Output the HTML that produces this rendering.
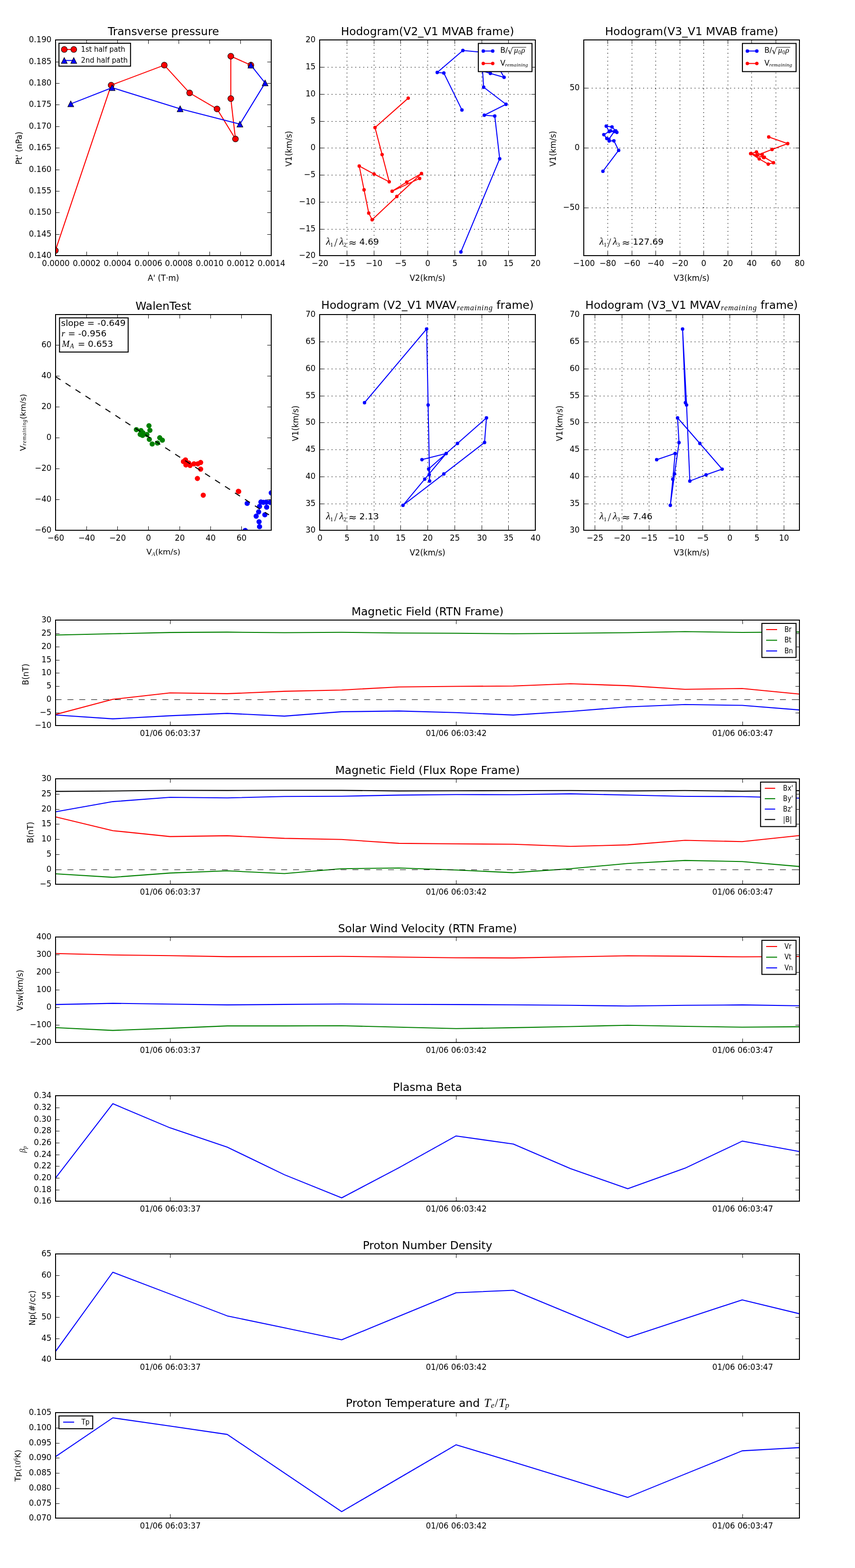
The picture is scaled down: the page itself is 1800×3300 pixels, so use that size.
<!DOCTYPE html>
<html><head><meta charset="utf-8"><title>Flux rope analysis</title>
<style>html,body{margin:0;padding:0;background:#fff;}svg{display:block;}</style>
</head><body>
<svg width="1800" height="3300" viewBox="0 0 1800 3300">
<rect x="0" y="0" width="1800" height="3300" fill="#fff"/>
<clipPath id="c1"><rect x="117" y="84" width="454" height="454"/></clipPath>
<g clip-path="url(#c1)">
<polyline points="116.6,527.3 234,179.3 345.9,137.1 399.2,195.6 456.9,229.3 495.7,292.5 485.9,207.5 485.9,118.3 528.2,137.1" fill="none" stroke="#ff0000" stroke-width="2.08" stroke-linejoin="round" stroke-linecap="butt"/>
<circle cx="116.6" cy="527.3" r="6.25" fill="#ff0000" stroke="#000" stroke-width="1.04"/>
<circle cx="234" cy="179.3" r="6.25" fill="#ff0000" stroke="#000" stroke-width="1.04"/>
<circle cx="345.9" cy="137.1" r="6.25" fill="#ff0000" stroke="#000" stroke-width="1.04"/>
<circle cx="399.2" cy="195.6" r="6.25" fill="#ff0000" stroke="#000" stroke-width="1.04"/>
<circle cx="456.9" cy="229.3" r="6.25" fill="#ff0000" stroke="#000" stroke-width="1.04"/>
<circle cx="495.7" cy="292.5" r="6.25" fill="#ff0000" stroke="#000" stroke-width="1.04"/>
<circle cx="485.9" cy="207.5" r="6.25" fill="#ff0000" stroke="#000" stroke-width="1.04"/>
<circle cx="485.9" cy="118.3" r="6.25" fill="#ff0000" stroke="#000" stroke-width="1.04"/>
<circle cx="528.2" cy="137.1" r="6.25" fill="#ff0000" stroke="#000" stroke-width="1.04"/>
<polyline points="149,218.6 236.1,184.5 379.2,228.9 505.1,261.3 558.1,174.6 528.2,137.1" fill="none" stroke="#0000ff" stroke-width="2.08" stroke-linejoin="round" stroke-linecap="butt"/>
<polygon points="149,212.35 142.75,224.85 155.25,224.85" fill="#0000ff" stroke="#000" stroke-width="1.04" stroke-linejoin="miter"/>
<polygon points="236.1,178.25 229.85,190.75 242.35,190.75" fill="#0000ff" stroke="#000" stroke-width="1.04" stroke-linejoin="miter"/>
<polygon points="379.2,222.65 372.95,235.15 385.45,235.15" fill="#0000ff" stroke="#000" stroke-width="1.04" stroke-linejoin="miter"/>
<polygon points="505.1,255.05 498.85,267.55 511.35,267.55" fill="#0000ff" stroke="#000" stroke-width="1.04" stroke-linejoin="miter"/>
<polygon points="558.1,168.35 551.85,180.85 564.35,180.85" fill="#0000ff" stroke="#000" stroke-width="1.04" stroke-linejoin="miter"/>
<polygon points="528.2,130.85 521.95,143.35 534.45,143.35" fill="#0000ff" stroke="#000" stroke-width="1.04" stroke-linejoin="miter"/>
</g>
<line x1="117.5" y1="538" x2="117.5" y2="529.67" stroke="#000" stroke-width="1.04" stroke-linecap="butt"/>
<line x1="117.5" y1="84" x2="117.5" y2="92.33" stroke="#000" stroke-width="1.04" stroke-linecap="butt"/>
<text x="117.5" y="560.4" font-size="16.67" font-family="'DejaVu Sans', 'Liberation Sans', sans-serif" text-anchor="middle" transform="matrix(1 0 0 1.07 0 -39.23)">0.0000</text>
<line x1="182.5" y1="538" x2="182.5" y2="529.67" stroke="#000" stroke-width="1.04" stroke-linecap="butt"/>
<line x1="182.5" y1="84" x2="182.5" y2="92.33" stroke="#000" stroke-width="1.04" stroke-linecap="butt"/>
<text x="182.5" y="560.4" font-size="16.67" font-family="'DejaVu Sans', 'Liberation Sans', sans-serif" text-anchor="middle" transform="matrix(1 0 0 1.07 0 -39.23)">0.0002</text>
<line x1="247.5" y1="538" x2="247.5" y2="529.67" stroke="#000" stroke-width="1.04" stroke-linecap="butt"/>
<line x1="247.5" y1="84" x2="247.5" y2="92.33" stroke="#000" stroke-width="1.04" stroke-linecap="butt"/>
<text x="247.5" y="560.4" font-size="16.67" font-family="'DejaVu Sans', 'Liberation Sans', sans-serif" text-anchor="middle" transform="matrix(1 0 0 1.07 0 -39.23)">0.0004</text>
<line x1="312.5" y1="538" x2="312.5" y2="529.67" stroke="#000" stroke-width="1.04" stroke-linecap="butt"/>
<line x1="312.5" y1="84" x2="312.5" y2="92.33" stroke="#000" stroke-width="1.04" stroke-linecap="butt"/>
<text x="312.5" y="560.4" font-size="16.67" font-family="'DejaVu Sans', 'Liberation Sans', sans-serif" text-anchor="middle" transform="matrix(1 0 0 1.07 0 -39.23)">0.0006</text>
<line x1="376.5" y1="538" x2="376.5" y2="529.67" stroke="#000" stroke-width="1.04" stroke-linecap="butt"/>
<line x1="376.5" y1="84" x2="376.5" y2="92.33" stroke="#000" stroke-width="1.04" stroke-linecap="butt"/>
<text x="376.5" y="560.4" font-size="16.67" font-family="'DejaVu Sans', 'Liberation Sans', sans-serif" text-anchor="middle" transform="matrix(1 0 0 1.07 0 -39.23)">0.0008</text>
<line x1="441.5" y1="538" x2="441.5" y2="529.67" stroke="#000" stroke-width="1.04" stroke-linecap="butt"/>
<line x1="441.5" y1="84" x2="441.5" y2="92.33" stroke="#000" stroke-width="1.04" stroke-linecap="butt"/>
<text x="441.5" y="560.4" font-size="16.67" font-family="'DejaVu Sans', 'Liberation Sans', sans-serif" text-anchor="middle" transform="matrix(1 0 0 1.07 0 -39.23)">0.0010</text>
<line x1="506.5" y1="538" x2="506.5" y2="529.67" stroke="#000" stroke-width="1.04" stroke-linecap="butt"/>
<line x1="506.5" y1="84" x2="506.5" y2="92.33" stroke="#000" stroke-width="1.04" stroke-linecap="butt"/>
<text x="506.5" y="560.4" font-size="16.67" font-family="'DejaVu Sans', 'Liberation Sans', sans-serif" text-anchor="middle" transform="matrix(1 0 0 1.07 0 -39.23)">0.0012</text>
<line x1="571.5" y1="538" x2="571.5" y2="529.67" stroke="#000" stroke-width="1.04" stroke-linecap="butt"/>
<line x1="571.5" y1="84" x2="571.5" y2="92.33" stroke="#000" stroke-width="1.04" stroke-linecap="butt"/>
<text x="571.5" y="560.4" font-size="16.67" font-family="'DejaVu Sans', 'Liberation Sans', sans-serif" text-anchor="middle" transform="matrix(1 0 0 1.07 0 -39.23)">0.0014</text>
<line x1="117" y1="538.5" x2="125.33" y2="538.5" stroke="#000" stroke-width="1.04" stroke-linecap="butt"/>
<line x1="571" y1="538.5" x2="562.67" y2="538.5" stroke="#000" stroke-width="1.04" stroke-linecap="butt"/>
<text x="108.4" y="543.2" font-size="16.67" font-family="'DejaVu Sans', 'Liberation Sans', sans-serif" text-anchor="end" transform="matrix(1 0 0 1.07 0 -38.02)">0.140</text>
<line x1="117" y1="493.5" x2="125.33" y2="493.5" stroke="#000" stroke-width="1.04" stroke-linecap="butt"/>
<line x1="571" y1="493.5" x2="562.67" y2="493.5" stroke="#000" stroke-width="1.04" stroke-linecap="butt"/>
<text x="108.4" y="498.2" font-size="16.67" font-family="'DejaVu Sans', 'Liberation Sans', sans-serif" text-anchor="end" transform="matrix(1 0 0 1.07 0 -34.87)">0.145</text>
<line x1="117" y1="447.5" x2="125.33" y2="447.5" stroke="#000" stroke-width="1.04" stroke-linecap="butt"/>
<line x1="571" y1="447.5" x2="562.67" y2="447.5" stroke="#000" stroke-width="1.04" stroke-linecap="butt"/>
<text x="108.4" y="452.2" font-size="16.67" font-family="'DejaVu Sans', 'Liberation Sans', sans-serif" text-anchor="end" transform="matrix(1 0 0 1.07 0 -31.65)">0.150</text>
<line x1="117" y1="402.5" x2="125.33" y2="402.5" stroke="#000" stroke-width="1.04" stroke-linecap="butt"/>
<line x1="571" y1="402.5" x2="562.67" y2="402.5" stroke="#000" stroke-width="1.04" stroke-linecap="butt"/>
<text x="108.4" y="407.2" font-size="16.67" font-family="'DejaVu Sans', 'Liberation Sans', sans-serif" text-anchor="end" transform="matrix(1 0 0 1.07 0 -28.5)">0.155</text>
<line x1="117" y1="357.5" x2="125.33" y2="357.5" stroke="#000" stroke-width="1.04" stroke-linecap="butt"/>
<line x1="571" y1="357.5" x2="562.67" y2="357.5" stroke="#000" stroke-width="1.04" stroke-linecap="butt"/>
<text x="108.4" y="362.2" font-size="16.67" font-family="'DejaVu Sans', 'Liberation Sans', sans-serif" text-anchor="end" transform="matrix(1 0 0 1.07 0 -25.35)">0.160</text>
<line x1="117" y1="311.5" x2="125.33" y2="311.5" stroke="#000" stroke-width="1.04" stroke-linecap="butt"/>
<line x1="571" y1="311.5" x2="562.67" y2="311.5" stroke="#000" stroke-width="1.04" stroke-linecap="butt"/>
<text x="108.4" y="316.2" font-size="16.67" font-family="'DejaVu Sans', 'Liberation Sans', sans-serif" text-anchor="end" transform="matrix(1 0 0 1.07 0 -22.13)">0.165</text>
<line x1="117" y1="266.5" x2="125.33" y2="266.5" stroke="#000" stroke-width="1.04" stroke-linecap="butt"/>
<line x1="571" y1="266.5" x2="562.67" y2="266.5" stroke="#000" stroke-width="1.04" stroke-linecap="butt"/>
<text x="108.4" y="271.2" font-size="16.67" font-family="'DejaVu Sans', 'Liberation Sans', sans-serif" text-anchor="end" transform="matrix(1 0 0 1.07 0 -18.98)">0.170</text>
<line x1="117" y1="220.5" x2="125.33" y2="220.5" stroke="#000" stroke-width="1.04" stroke-linecap="butt"/>
<line x1="571" y1="220.5" x2="562.67" y2="220.5" stroke="#000" stroke-width="1.04" stroke-linecap="butt"/>
<text x="108.4" y="225.2" font-size="16.67" font-family="'DejaVu Sans', 'Liberation Sans', sans-serif" text-anchor="end" transform="matrix(1 0 0 1.07 0 -15.76)">0.175</text>
<line x1="117" y1="175.5" x2="125.33" y2="175.5" stroke="#000" stroke-width="1.04" stroke-linecap="butt"/>
<line x1="571" y1="175.5" x2="562.67" y2="175.5" stroke="#000" stroke-width="1.04" stroke-linecap="butt"/>
<text x="108.4" y="180.2" font-size="16.67" font-family="'DejaVu Sans', 'Liberation Sans', sans-serif" text-anchor="end" transform="matrix(1 0 0 1.07 0 -12.61)">0.180</text>
<line x1="117" y1="130.5" x2="125.33" y2="130.5" stroke="#000" stroke-width="1.04" stroke-linecap="butt"/>
<line x1="571" y1="130.5" x2="562.67" y2="130.5" stroke="#000" stroke-width="1.04" stroke-linecap="butt"/>
<text x="108.4" y="135.2" font-size="16.67" font-family="'DejaVu Sans', 'Liberation Sans', sans-serif" text-anchor="end" transform="matrix(1 0 0 1.07 0 -9.46)">0.185</text>
<line x1="117" y1="84.5" x2="125.33" y2="84.5" stroke="#000" stroke-width="1.04" stroke-linecap="butt"/>
<line x1="571" y1="84.5" x2="562.67" y2="84.5" stroke="#000" stroke-width="1.04" stroke-linecap="butt"/>
<text x="108.4" y="89.2" font-size="16.67" font-family="'DejaVu Sans', 'Liberation Sans', sans-serif" text-anchor="end" transform="matrix(1 0 0 1.07 0 -6.24)">0.190</text>
<rect x="117" y="84" width="454" height="454" fill="none" stroke="#000" stroke-width="2"/>
<text x="344" y="74" font-size="23.35" font-family="'DejaVu Sans', 'Liberation Sans', sans-serif" text-anchor="middle">Transverse pressure</text>
<text x="344" y="591.4" font-size="16.67" font-family="'DejaVu Sans', 'Liberation Sans', sans-serif" text-anchor="middle" transform="matrix(1 0 0 1.07 0 -41.4)">A' (T·m)</text>
<text x="45.8" y="311.8" font-size="16.67" font-family="'DejaVu Sans', 'Liberation Sans', sans-serif" text-anchor="middle" transform="rotate(-90 45.8 311.8) matrix(1 0 0 1.07 0 -21.83)">Pt' (nPa)</text>
<rect x="124.1" y="91" width="150.7" height="48.3" fill="#fff" stroke="#000" stroke-width="2.08"/>
<line x1="135.3" y1="104.1" x2="155.3" y2="104.1" stroke="#ff0000" stroke-width="2.08" stroke-linecap="butt"/>
<circle cx="135.3" cy="104.1" r="6.25" fill="#ff0000" stroke="#000" stroke-width="1.04"/>
<circle cx="155.3" cy="104.1" r="6.25" fill="#ff0000" stroke="#000" stroke-width="1.04"/>
<line x1="135.3" y1="127.3" x2="155.3" y2="127.3" stroke="#0000ff" stroke-width="2.08" stroke-linecap="butt"/>
<polygon points="135.3,121.05 129.05,133.55 141.55,133.55" fill="#0000ff" stroke="#000" stroke-width="1.04" stroke-linejoin="miter"/>
<polygon points="155.3,121.05 149.05,133.55 161.55,133.55" fill="#0000ff" stroke="#000" stroke-width="1.04" stroke-linejoin="miter"/>
<text x="170.6" y="108.9" font-size="14.7" font-family="'DejaVu Sans', 'Liberation Sans', sans-serif" transform="matrix(1 0 0 1.08 0 -8.71)">1st half path</text>
<text x="170.6" y="132" font-size="14.7" font-family="'DejaVu Sans', 'Liberation Sans', sans-serif" transform="matrix(1 0 0 1.08 0 -10.56)">2nd half path</text>
<clipPath id="c2"><rect x="673" y="84" width="454" height="454"/></clipPath>
<line x1="730.5" y1="538" x2="730.5" y2="84" stroke="#000" stroke-width="1.04" stroke-dasharray="2.08,6.25" stroke-linecap="butt"/>
<line x1="787.5" y1="538" x2="787.5" y2="84" stroke="#000" stroke-width="1.04" stroke-dasharray="2.08,6.25" stroke-linecap="butt"/>
<line x1="843.5" y1="538" x2="843.5" y2="84" stroke="#000" stroke-width="1.04" stroke-dasharray="2.08,6.25" stroke-linecap="butt"/>
<line x1="900.5" y1="538" x2="900.5" y2="84" stroke="#000" stroke-width="1.04" stroke-dasharray="2.08,6.25" stroke-linecap="butt"/>
<line x1="957.5" y1="538" x2="957.5" y2="84" stroke="#000" stroke-width="1.04" stroke-dasharray="2.08,6.25" stroke-linecap="butt"/>
<line x1="1014.5" y1="538" x2="1014.5" y2="84" stroke="#000" stroke-width="1.04" stroke-dasharray="2.08,6.25" stroke-linecap="butt"/>
<line x1="1070.5" y1="538" x2="1070.5" y2="84" stroke="#000" stroke-width="1.04" stroke-dasharray="2.08,6.25" stroke-linecap="butt"/>
<line x1="1127.5" y1="538" x2="1127.5" y2="84" stroke="#000" stroke-width="1.04" stroke-dasharray="2.08,6.25" stroke-linecap="butt"/>
<line x1="673" y1="482.5" x2="1127" y2="482.5" stroke="#000" stroke-width="1.04" stroke-dasharray="2.08,6.25" stroke-linecap="butt"/>
<line x1="673" y1="425.5" x2="1127" y2="425.5" stroke="#000" stroke-width="1.04" stroke-dasharray="2.08,6.25" stroke-linecap="butt"/>
<line x1="673" y1="368.5" x2="1127" y2="368.5" stroke="#000" stroke-width="1.04" stroke-dasharray="2.08,6.25" stroke-linecap="butt"/>
<line x1="673" y1="311.5" x2="1127" y2="311.5" stroke="#000" stroke-width="1.04" stroke-dasharray="2.08,6.25" stroke-linecap="butt"/>
<line x1="673" y1="255.5" x2="1127" y2="255.5" stroke="#000" stroke-width="1.04" stroke-dasharray="2.08,6.25" stroke-linecap="butt"/>
<line x1="673" y1="198.5" x2="1127" y2="198.5" stroke="#000" stroke-width="1.04" stroke-dasharray="2.08,6.25" stroke-linecap="butt"/>
<line x1="673" y1="141.5" x2="1127" y2="141.5" stroke="#000" stroke-width="1.04" stroke-dasharray="2.08,6.25" stroke-linecap="butt"/>
<g clip-path="url(#c2)">
<polyline points="972.5,231.4 934.4,153.7 920.5,152.5 974.5,106.2 1030,111.3" fill="none" stroke="#0000ff" stroke-width="2.08" stroke-linejoin="round" stroke-linecap="butt"/>
<polyline points="1012.3,148.1 1032.3,154.5 1061.2,162.7 1051.2,144.9" fill="none" stroke="#0000ff" stroke-width="2.08" stroke-linejoin="round" stroke-linecap="butt"/>
<polyline points="1014,120 1018.2,183.5 1065.3,219.5 1019.5,242.5 1041.6,244.2 1052,334.1 970.3,530.2" fill="none" stroke="#0000ff" stroke-width="2.08" stroke-linejoin="round" stroke-linecap="butt"/>
<circle cx="972.5" cy="231.4" r="3.12" fill="#0000ff" stroke="#0000ff" stroke-width="1.04"/>
<circle cx="934.4" cy="153.7" r="3.12" fill="#0000ff" stroke="#0000ff" stroke-width="1.04"/>
<circle cx="920.5" cy="152.5" r="3.12" fill="#0000ff" stroke="#0000ff" stroke-width="1.04"/>
<circle cx="974.5" cy="106.2" r="3.12" fill="#0000ff" stroke="#0000ff" stroke-width="1.04"/>
<circle cx="1032.3" cy="154.5" r="3.12" fill="#0000ff" stroke="#0000ff" stroke-width="1.04"/>
<circle cx="1061.2" cy="162.7" r="3.12" fill="#0000ff" stroke="#0000ff" stroke-width="1.04"/>
<circle cx="1018.2" cy="183.5" r="3.12" fill="#0000ff" stroke="#0000ff" stroke-width="1.04"/>
<circle cx="1065.3" cy="219.5" r="3.12" fill="#0000ff" stroke="#0000ff" stroke-width="1.04"/>
<circle cx="1019.5" cy="242.5" r="3.12" fill="#0000ff" stroke="#0000ff" stroke-width="1.04"/>
<circle cx="1041.6" cy="244.2" r="3.12" fill="#0000ff" stroke="#0000ff" stroke-width="1.04"/>
<circle cx="1052" cy="334.1" r="3.12" fill="#0000ff" stroke="#0000ff" stroke-width="1.04"/>
<circle cx="970.3" cy="530.2" r="3.12" fill="#0000ff" stroke="#0000ff" stroke-width="1.04"/>
<polyline points="859.4,206.6 789.5,268.5 804.4,325.3 819.4,382.6 787.5,366.3 756.3,349.4 766.4,399.5 776.3,448.4 783.4,462.4 835.4,413.5 887.3,365.2 856.4,383.2 825.5,402.4 883.5,375.6" fill="none" stroke="#ff0000" stroke-width="2.08" stroke-linejoin="round" stroke-linecap="butt"/>
<circle cx="859.4" cy="206.6" r="3.12" fill="#ff0000" stroke="#ff0000" stroke-width="1.04"/>
<circle cx="789.5" cy="268.5" r="3.12" fill="#ff0000" stroke="#ff0000" stroke-width="1.04"/>
<circle cx="804.4" cy="325.3" r="3.12" fill="#ff0000" stroke="#ff0000" stroke-width="1.04"/>
<circle cx="819.4" cy="382.6" r="3.12" fill="#ff0000" stroke="#ff0000" stroke-width="1.04"/>
<circle cx="787.5" cy="366.3" r="3.12" fill="#ff0000" stroke="#ff0000" stroke-width="1.04"/>
<circle cx="756.3" cy="349.4" r="3.12" fill="#ff0000" stroke="#ff0000" stroke-width="1.04"/>
<circle cx="766.4" cy="399.5" r="3.12" fill="#ff0000" stroke="#ff0000" stroke-width="1.04"/>
<circle cx="776.3" cy="448.4" r="3.12" fill="#ff0000" stroke="#ff0000" stroke-width="1.04"/>
<circle cx="783.4" cy="462.4" r="3.12" fill="#ff0000" stroke="#ff0000" stroke-width="1.04"/>
<circle cx="835.4" cy="413.5" r="3.12" fill="#ff0000" stroke="#ff0000" stroke-width="1.04"/>
<circle cx="887.3" cy="365.2" r="3.12" fill="#ff0000" stroke="#ff0000" stroke-width="1.04"/>
<circle cx="856.4" cy="383.2" r="3.12" fill="#ff0000" stroke="#ff0000" stroke-width="1.04"/>
<circle cx="825.5" cy="402.4" r="3.12" fill="#ff0000" stroke="#ff0000" stroke-width="1.04"/>
<circle cx="883.5" cy="375.6" r="3.12" fill="#ff0000" stroke="#ff0000" stroke-width="1.04"/>
</g>
<line x1="673.5" y1="538" x2="673.5" y2="529.67" stroke="#000" stroke-width="1.04" stroke-linecap="butt"/>
<line x1="673.5" y1="84" x2="673.5" y2="92.33" stroke="#000" stroke-width="1.04" stroke-linecap="butt"/>
<text x="673.5" y="560.4" font-size="16.67" font-family="'DejaVu Sans', 'Liberation Sans', sans-serif" text-anchor="middle" transform="matrix(1 0 0 1.07 0 -39.23)">−20</text>
<line x1="730.5" y1="538" x2="730.5" y2="529.67" stroke="#000" stroke-width="1.04" stroke-linecap="butt"/>
<line x1="730.5" y1="84" x2="730.5" y2="92.33" stroke="#000" stroke-width="1.04" stroke-linecap="butt"/>
<text x="730.5" y="560.4" font-size="16.67" font-family="'DejaVu Sans', 'Liberation Sans', sans-serif" text-anchor="middle" transform="matrix(1 0 0 1.07 0 -39.23)">−15</text>
<line x1="787.5" y1="538" x2="787.5" y2="529.67" stroke="#000" stroke-width="1.04" stroke-linecap="butt"/>
<line x1="787.5" y1="84" x2="787.5" y2="92.33" stroke="#000" stroke-width="1.04" stroke-linecap="butt"/>
<text x="787.5" y="560.4" font-size="16.67" font-family="'DejaVu Sans', 'Liberation Sans', sans-serif" text-anchor="middle" transform="matrix(1 0 0 1.07 0 -39.23)">−10</text>
<line x1="843.5" y1="538" x2="843.5" y2="529.67" stroke="#000" stroke-width="1.04" stroke-linecap="butt"/>
<line x1="843.5" y1="84" x2="843.5" y2="92.33" stroke="#000" stroke-width="1.04" stroke-linecap="butt"/>
<text x="843.5" y="560.4" font-size="16.67" font-family="'DejaVu Sans', 'Liberation Sans', sans-serif" text-anchor="middle" transform="matrix(1 0 0 1.07 0 -39.23)">−5</text>
<line x1="900.5" y1="538" x2="900.5" y2="529.67" stroke="#000" stroke-width="1.04" stroke-linecap="butt"/>
<line x1="900.5" y1="84" x2="900.5" y2="92.33" stroke="#000" stroke-width="1.04" stroke-linecap="butt"/>
<text x="900.5" y="560.4" font-size="16.67" font-family="'DejaVu Sans', 'Liberation Sans', sans-serif" text-anchor="middle" transform="matrix(1 0 0 1.07 0 -39.23)">0</text>
<line x1="957.5" y1="538" x2="957.5" y2="529.67" stroke="#000" stroke-width="1.04" stroke-linecap="butt"/>
<line x1="957.5" y1="84" x2="957.5" y2="92.33" stroke="#000" stroke-width="1.04" stroke-linecap="butt"/>
<text x="957.5" y="560.4" font-size="16.67" font-family="'DejaVu Sans', 'Liberation Sans', sans-serif" text-anchor="middle" transform="matrix(1 0 0 1.07 0 -39.23)">5</text>
<line x1="1014.5" y1="538" x2="1014.5" y2="529.67" stroke="#000" stroke-width="1.04" stroke-linecap="butt"/>
<line x1="1014.5" y1="84" x2="1014.5" y2="92.33" stroke="#000" stroke-width="1.04" stroke-linecap="butt"/>
<text x="1014.5" y="560.4" font-size="16.67" font-family="'DejaVu Sans', 'Liberation Sans', sans-serif" text-anchor="middle" transform="matrix(1 0 0 1.07 0 -39.23)">10</text>
<line x1="1070.5" y1="538" x2="1070.5" y2="529.67" stroke="#000" stroke-width="1.04" stroke-linecap="butt"/>
<line x1="1070.5" y1="84" x2="1070.5" y2="92.33" stroke="#000" stroke-width="1.04" stroke-linecap="butt"/>
<text x="1070.5" y="560.4" font-size="16.67" font-family="'DejaVu Sans', 'Liberation Sans', sans-serif" text-anchor="middle" transform="matrix(1 0 0 1.07 0 -39.23)">15</text>
<line x1="1127.5" y1="538" x2="1127.5" y2="529.67" stroke="#000" stroke-width="1.04" stroke-linecap="butt"/>
<line x1="1127.5" y1="84" x2="1127.5" y2="92.33" stroke="#000" stroke-width="1.04" stroke-linecap="butt"/>
<text x="1127.5" y="560.4" font-size="16.67" font-family="'DejaVu Sans', 'Liberation Sans', sans-serif" text-anchor="middle" transform="matrix(1 0 0 1.07 0 -39.23)">20</text>
<line x1="673" y1="538.5" x2="681.33" y2="538.5" stroke="#000" stroke-width="1.04" stroke-linecap="butt"/>
<line x1="1127" y1="538.5" x2="1118.67" y2="538.5" stroke="#000" stroke-width="1.04" stroke-linecap="butt"/>
<text x="664.4" y="543.2" font-size="16.67" font-family="'DejaVu Sans', 'Liberation Sans', sans-serif" text-anchor="end" transform="matrix(1 0 0 1.07 0 -38.02)">−20</text>
<line x1="673" y1="482.5" x2="681.33" y2="482.5" stroke="#000" stroke-width="1.04" stroke-linecap="butt"/>
<line x1="1127" y1="482.5" x2="1118.67" y2="482.5" stroke="#000" stroke-width="1.04" stroke-linecap="butt"/>
<text x="664.4" y="487.2" font-size="16.67" font-family="'DejaVu Sans', 'Liberation Sans', sans-serif" text-anchor="end" transform="matrix(1 0 0 1.07 0 -34.1)">−15</text>
<line x1="673" y1="425.5" x2="681.33" y2="425.5" stroke="#000" stroke-width="1.04" stroke-linecap="butt"/>
<line x1="1127" y1="425.5" x2="1118.67" y2="425.5" stroke="#000" stroke-width="1.04" stroke-linecap="butt"/>
<text x="664.4" y="430.2" font-size="16.67" font-family="'DejaVu Sans', 'Liberation Sans', sans-serif" text-anchor="end" transform="matrix(1 0 0 1.07 0 -30.11)">−10</text>
<line x1="673" y1="368.5" x2="681.33" y2="368.5" stroke="#000" stroke-width="1.04" stroke-linecap="butt"/>
<line x1="1127" y1="368.5" x2="1118.67" y2="368.5" stroke="#000" stroke-width="1.04" stroke-linecap="butt"/>
<text x="664.4" y="373.2" font-size="16.67" font-family="'DejaVu Sans', 'Liberation Sans', sans-serif" text-anchor="end" transform="matrix(1 0 0 1.07 0 -26.12)">−5</text>
<line x1="673" y1="311.5" x2="681.33" y2="311.5" stroke="#000" stroke-width="1.04" stroke-linecap="butt"/>
<line x1="1127" y1="311.5" x2="1118.67" y2="311.5" stroke="#000" stroke-width="1.04" stroke-linecap="butt"/>
<text x="664.4" y="316.2" font-size="16.67" font-family="'DejaVu Sans', 'Liberation Sans', sans-serif" text-anchor="end" transform="matrix(1 0 0 1.07 0 -22.13)">0</text>
<line x1="673" y1="255.5" x2="681.33" y2="255.5" stroke="#000" stroke-width="1.04" stroke-linecap="butt"/>
<line x1="1127" y1="255.5" x2="1118.67" y2="255.5" stroke="#000" stroke-width="1.04" stroke-linecap="butt"/>
<text x="664.4" y="260.2" font-size="16.67" font-family="'DejaVu Sans', 'Liberation Sans', sans-serif" text-anchor="end" transform="matrix(1 0 0 1.07 0 -18.21)">5</text>
<line x1="673" y1="198.5" x2="681.33" y2="198.5" stroke="#000" stroke-width="1.04" stroke-linecap="butt"/>
<line x1="1127" y1="198.5" x2="1118.67" y2="198.5" stroke="#000" stroke-width="1.04" stroke-linecap="butt"/>
<text x="664.4" y="203.2" font-size="16.67" font-family="'DejaVu Sans', 'Liberation Sans', sans-serif" text-anchor="end" transform="matrix(1 0 0 1.07 0 -14.22)">10</text>
<line x1="673" y1="141.5" x2="681.33" y2="141.5" stroke="#000" stroke-width="1.04" stroke-linecap="butt"/>
<line x1="1127" y1="141.5" x2="1118.67" y2="141.5" stroke="#000" stroke-width="1.04" stroke-linecap="butt"/>
<text x="664.4" y="146.2" font-size="16.67" font-family="'DejaVu Sans', 'Liberation Sans', sans-serif" text-anchor="end" transform="matrix(1 0 0 1.07 0 -10.23)">15</text>
<line x1="673" y1="84.5" x2="681.33" y2="84.5" stroke="#000" stroke-width="1.04" stroke-linecap="butt"/>
<line x1="1127" y1="84.5" x2="1118.67" y2="84.5" stroke="#000" stroke-width="1.04" stroke-linecap="butt"/>
<text x="664.4" y="89.2" font-size="16.67" font-family="'DejaVu Sans', 'Liberation Sans', sans-serif" text-anchor="end" transform="matrix(1 0 0 1.07 0 -6.24)">20</text>
<rect x="673" y="84" width="454" height="454" fill="none" stroke="#000" stroke-width="2"/>
<text x="900" y="74" font-size="23.35" font-family="'DejaVu Sans', 'Liberation Sans', sans-serif" text-anchor="middle">Hodogram(V2_V1 MVAB frame)</text>
<text x="900" y="591.4" font-size="16.67" font-family="'DejaVu Sans', 'Liberation Sans', sans-serif" text-anchor="middle" transform="matrix(1 0 0 1.07 0 -41.4)">V2(km/s)</text>
<text x="613.7" y="313" font-size="16.67" font-family="'DejaVu Sans', 'Liberation Sans', sans-serif" text-anchor="middle" transform="rotate(-90 613.7 313) matrix(1 0 0 1.07 0 -21.91)">V1(km/s)</text>
<rect x="1007" y="91.4" width="113" height="59.3" fill="#fff" stroke="#000" stroke-width="2.08"/>
<line x1="1017.4" y1="107.4" x2="1037.3" y2="107.4" stroke="#0000ff" stroke-width="2.08" stroke-linecap="butt"/>
<circle cx="1017.4" cy="107.4" r="3.12" fill="#0000ff" stroke="#0000ff" stroke-width="1.04"/>
<circle cx="1037.3" cy="107.4" r="3.12" fill="#0000ff" stroke="#0000ff" stroke-width="1.04"/>
<line x1="1017.4" y1="133.6" x2="1037.3" y2="133.6" stroke="#ff0000" stroke-width="2.08" stroke-linecap="butt"/>
<circle cx="1017.4" cy="133.6" r="3.12" fill="#ff0000" stroke="#ff0000" stroke-width="1.04"/>
<circle cx="1037.3" cy="133.6" r="3.12" fill="#ff0000" stroke="#ff0000" stroke-width="1.04"/>
<text x="1053.2" y="111" font-size="15.6" font-family="'DejaVu Sans', 'Liberation Sans', sans-serif">B/</text>
<text x="1068.7" y="113.9" font-size="17.8" font-family="'DejaVu Sans', 'Liberation Sans', sans-serif">√</text>
<line x1="1079.6" y1="99.5" x2="1107.8" y2="99.5" stroke="#000" stroke-width="0.9" stroke-linecap="butt"/>
<text x="1082.2" y="111" font-size="16.5" font-family="'Liberation Serif', 'DejaVu Serif', serif" font-style="italic">μ</text>
<text x="1090.9" y="113.6" font-size="11.5" font-family="'Liberation Serif', 'DejaVu Serif', serif">0</text>
<text x="1097.4" y="111" font-size="16.5" font-family="'Liberation Serif', 'DejaVu Serif', serif" font-style="italic">ρ</text>
<text x="1053.2" y="137.8" font-size="15.6" font-family="'DejaVu Sans', 'Liberation Sans', sans-serif">V</text>
<text x="1063.6" y="139.7" font-size="11.2" font-family="'Liberation Serif', 'DejaVu Serif', serif" font-style="italic" textLength="48.0" lengthAdjust="spacing">remaining</text>
<text x="686.4" y="515.4" font-size="21" font-family="'Liberation Serif', 'DejaVu Serif', serif" font-style="italic">λ</text>
<text x="695.1" y="518.7" font-size="13" font-family="'Liberation Serif', 'DejaVu Serif', serif">1</text>
<text x="703.7" y="518.8" font-size="24.5" font-family="'Liberation Serif', 'DejaVu Serif', serif">/</text>
<text x="714.5" y="515.4" font-size="21" font-family="'Liberation Serif', 'DejaVu Serif', serif" font-style="italic">λ</text>
<text x="723.1" y="518.7" font-size="13" font-family="'Liberation Serif', 'DejaVu Serif', serif">2</text>
<text x="733.4" y="517.6" font-size="21" font-family="'DejaVu Sans', 'Liberation Sans', sans-serif">≈</text>
<text x="756.6" y="515.4" font-size="18.5" font-family="'DejaVu Sans', 'Liberation Sans', sans-serif">4.69</text>
<clipPath id="c3"><rect x="1229" y="84" width="454" height="454"/></clipPath>
<line x1="1279.5" y1="538" x2="1279.5" y2="84" stroke="#000" stroke-width="1.04" stroke-dasharray="2.08,6.25" stroke-linecap="butt"/>
<line x1="1330.5" y1="538" x2="1330.5" y2="84" stroke="#000" stroke-width="1.04" stroke-dasharray="2.08,6.25" stroke-linecap="butt"/>
<line x1="1380.5" y1="538" x2="1380.5" y2="84" stroke="#000" stroke-width="1.04" stroke-dasharray="2.08,6.25" stroke-linecap="butt"/>
<line x1="1431.5" y1="538" x2="1431.5" y2="84" stroke="#000" stroke-width="1.04" stroke-dasharray="2.08,6.25" stroke-linecap="butt"/>
<line x1="1481.5" y1="538" x2="1481.5" y2="84" stroke="#000" stroke-width="1.04" stroke-dasharray="2.08,6.25" stroke-linecap="butt"/>
<line x1="1532.5" y1="538" x2="1532.5" y2="84" stroke="#000" stroke-width="1.04" stroke-dasharray="2.08,6.25" stroke-linecap="butt"/>
<line x1="1582.5" y1="538" x2="1582.5" y2="84" stroke="#000" stroke-width="1.04" stroke-dasharray="2.08,6.25" stroke-linecap="butt"/>
<line x1="1633.5" y1="538" x2="1633.5" y2="84" stroke="#000" stroke-width="1.04" stroke-dasharray="2.08,6.25" stroke-linecap="butt"/>
<line x1="1683.5" y1="538" x2="1683.5" y2="84" stroke="#000" stroke-width="1.04" stroke-dasharray="2.08,6.25" stroke-linecap="butt"/>
<line x1="1229" y1="437.5" x2="1683" y2="437.5" stroke="#000" stroke-width="1.04" stroke-dasharray="2.08,6.25" stroke-linecap="butt"/>
<line x1="1229" y1="311.5" x2="1683" y2="311.5" stroke="#000" stroke-width="1.04" stroke-dasharray="2.08,6.25" stroke-linecap="butt"/>
<line x1="1229" y1="185.5" x2="1683" y2="185.5" stroke="#000" stroke-width="1.04" stroke-dasharray="2.08,6.25" stroke-linecap="butt"/>
<g clip-path="url(#c3)">
<polyline points="1281.9,293.1 1293.1,276.8 1282.4,276.8 1276.3,265.4 1288.4,267.2 1296.3,275.4 1298.7,278.6 1285.4,275.2 1271.2,283.3 1277.5,291.5 1282.4,296.6 1292.4,296.3 1302.4,316.4 1269.3,360.4" fill="none" stroke="#0000ff" stroke-width="2.08" stroke-linejoin="round" stroke-linecap="butt"/>
<circle cx="1281.9" cy="293.1" r="3.12" fill="#0000ff" stroke="#0000ff" stroke-width="1.04"/>
<circle cx="1293.1" cy="276.8" r="3.12" fill="#0000ff" stroke="#0000ff" stroke-width="1.04"/>
<circle cx="1282.4" cy="276.8" r="3.12" fill="#0000ff" stroke="#0000ff" stroke-width="1.04"/>
<circle cx="1276.3" cy="265.4" r="3.12" fill="#0000ff" stroke="#0000ff" stroke-width="1.04"/>
<circle cx="1288.4" cy="267.2" r="3.12" fill="#0000ff" stroke="#0000ff" stroke-width="1.04"/>
<circle cx="1296.3" cy="275.4" r="3.12" fill="#0000ff" stroke="#0000ff" stroke-width="1.04"/>
<circle cx="1298.7" cy="278.6" r="3.12" fill="#0000ff" stroke="#0000ff" stroke-width="1.04"/>
<circle cx="1285.4" cy="275.2" r="3.12" fill="#0000ff" stroke="#0000ff" stroke-width="1.04"/>
<circle cx="1271.2" cy="283.3" r="3.12" fill="#0000ff" stroke="#0000ff" stroke-width="1.04"/>
<circle cx="1277.5" cy="291.5" r="3.12" fill="#0000ff" stroke="#0000ff" stroke-width="1.04"/>
<circle cx="1282.4" cy="296.6" r="3.12" fill="#0000ff" stroke="#0000ff" stroke-width="1.04"/>
<circle cx="1292.4" cy="296.3" r="3.12" fill="#0000ff" stroke="#0000ff" stroke-width="1.04"/>
<circle cx="1302.4" cy="316.4" r="3.12" fill="#0000ff" stroke="#0000ff" stroke-width="1.04"/>
<circle cx="1269.3" cy="360.4" r="3.12" fill="#0000ff" stroke="#0000ff" stroke-width="1.04"/>
<polyline points="1618.4,288.2 1658.3,302.2 1625.4,314.5 1593.4,327 1580.3,323.3 1592.5,319.9 1609.2,331 1628.4,342.4 1617.3,345.3 1598.3,334.3 1581,323.1 1594,327.1 1607.5,331.6 1604.5,325.2" fill="none" stroke="#ff0000" stroke-width="2.08" stroke-linejoin="round" stroke-linecap="butt"/>
<circle cx="1618.4" cy="288.2" r="3.12" fill="#ff0000" stroke="#ff0000" stroke-width="1.04"/>
<circle cx="1658.3" cy="302.2" r="3.12" fill="#ff0000" stroke="#ff0000" stroke-width="1.04"/>
<circle cx="1625.4" cy="314.5" r="3.12" fill="#ff0000" stroke="#ff0000" stroke-width="1.04"/>
<circle cx="1593.4" cy="327" r="3.12" fill="#ff0000" stroke="#ff0000" stroke-width="1.04"/>
<circle cx="1580.3" cy="323.3" r="3.12" fill="#ff0000" stroke="#ff0000" stroke-width="1.04"/>
<circle cx="1592.5" cy="319.9" r="3.12" fill="#ff0000" stroke="#ff0000" stroke-width="1.04"/>
<circle cx="1609.2" cy="331" r="3.12" fill="#ff0000" stroke="#ff0000" stroke-width="1.04"/>
<circle cx="1628.4" cy="342.4" r="3.12" fill="#ff0000" stroke="#ff0000" stroke-width="1.04"/>
<circle cx="1617.3" cy="345.3" r="3.12" fill="#ff0000" stroke="#ff0000" stroke-width="1.04"/>
<circle cx="1598.3" cy="334.3" r="3.12" fill="#ff0000" stroke="#ff0000" stroke-width="1.04"/>
<circle cx="1581" cy="323.1" r="3.12" fill="#ff0000" stroke="#ff0000" stroke-width="1.04"/>
<circle cx="1594" cy="327.1" r="3.12" fill="#ff0000" stroke="#ff0000" stroke-width="1.04"/>
<circle cx="1607.5" cy="331.6" r="3.12" fill="#ff0000" stroke="#ff0000" stroke-width="1.04"/>
<circle cx="1604.5" cy="325.2" r="3.12" fill="#ff0000" stroke="#ff0000" stroke-width="1.04"/>
</g>
<line x1="1229.5" y1="538" x2="1229.5" y2="529.67" stroke="#000" stroke-width="1.04" stroke-linecap="butt"/>
<line x1="1229.5" y1="84" x2="1229.5" y2="92.33" stroke="#000" stroke-width="1.04" stroke-linecap="butt"/>
<text x="1229.5" y="560.4" font-size="16.67" font-family="'DejaVu Sans', 'Liberation Sans', sans-serif" text-anchor="middle" transform="matrix(1 0 0 1.07 0 -39.23)">−100</text>
<line x1="1279.5" y1="538" x2="1279.5" y2="529.67" stroke="#000" stroke-width="1.04" stroke-linecap="butt"/>
<line x1="1279.5" y1="84" x2="1279.5" y2="92.33" stroke="#000" stroke-width="1.04" stroke-linecap="butt"/>
<text x="1279.5" y="560.4" font-size="16.67" font-family="'DejaVu Sans', 'Liberation Sans', sans-serif" text-anchor="middle" transform="matrix(1 0 0 1.07 0 -39.23)">−80</text>
<line x1="1330.5" y1="538" x2="1330.5" y2="529.67" stroke="#000" stroke-width="1.04" stroke-linecap="butt"/>
<line x1="1330.5" y1="84" x2="1330.5" y2="92.33" stroke="#000" stroke-width="1.04" stroke-linecap="butt"/>
<text x="1330.5" y="560.4" font-size="16.67" font-family="'DejaVu Sans', 'Liberation Sans', sans-serif" text-anchor="middle" transform="matrix(1 0 0 1.07 0 -39.23)">−60</text>
<line x1="1380.5" y1="538" x2="1380.5" y2="529.67" stroke="#000" stroke-width="1.04" stroke-linecap="butt"/>
<line x1="1380.5" y1="84" x2="1380.5" y2="92.33" stroke="#000" stroke-width="1.04" stroke-linecap="butt"/>
<text x="1380.5" y="560.4" font-size="16.67" font-family="'DejaVu Sans', 'Liberation Sans', sans-serif" text-anchor="middle" transform="matrix(1 0 0 1.07 0 -39.23)">−40</text>
<line x1="1431.5" y1="538" x2="1431.5" y2="529.67" stroke="#000" stroke-width="1.04" stroke-linecap="butt"/>
<line x1="1431.5" y1="84" x2="1431.5" y2="92.33" stroke="#000" stroke-width="1.04" stroke-linecap="butt"/>
<text x="1431.5" y="560.4" font-size="16.67" font-family="'DejaVu Sans', 'Liberation Sans', sans-serif" text-anchor="middle" transform="matrix(1 0 0 1.07 0 -39.23)">−20</text>
<line x1="1481.5" y1="538" x2="1481.5" y2="529.67" stroke="#000" stroke-width="1.04" stroke-linecap="butt"/>
<line x1="1481.5" y1="84" x2="1481.5" y2="92.33" stroke="#000" stroke-width="1.04" stroke-linecap="butt"/>
<text x="1481.5" y="560.4" font-size="16.67" font-family="'DejaVu Sans', 'Liberation Sans', sans-serif" text-anchor="middle" transform="matrix(1 0 0 1.07 0 -39.23)">0</text>
<line x1="1532.5" y1="538" x2="1532.5" y2="529.67" stroke="#000" stroke-width="1.04" stroke-linecap="butt"/>
<line x1="1532.5" y1="84" x2="1532.5" y2="92.33" stroke="#000" stroke-width="1.04" stroke-linecap="butt"/>
<text x="1532.5" y="560.4" font-size="16.67" font-family="'DejaVu Sans', 'Liberation Sans', sans-serif" text-anchor="middle" transform="matrix(1 0 0 1.07 0 -39.23)">20</text>
<line x1="1582.5" y1="538" x2="1582.5" y2="529.67" stroke="#000" stroke-width="1.04" stroke-linecap="butt"/>
<line x1="1582.5" y1="84" x2="1582.5" y2="92.33" stroke="#000" stroke-width="1.04" stroke-linecap="butt"/>
<text x="1582.5" y="560.4" font-size="16.67" font-family="'DejaVu Sans', 'Liberation Sans', sans-serif" text-anchor="middle" transform="matrix(1 0 0 1.07 0 -39.23)">40</text>
<line x1="1633.5" y1="538" x2="1633.5" y2="529.67" stroke="#000" stroke-width="1.04" stroke-linecap="butt"/>
<line x1="1633.5" y1="84" x2="1633.5" y2="92.33" stroke="#000" stroke-width="1.04" stroke-linecap="butt"/>
<text x="1633.5" y="560.4" font-size="16.67" font-family="'DejaVu Sans', 'Liberation Sans', sans-serif" text-anchor="middle" transform="matrix(1 0 0 1.07 0 -39.23)">60</text>
<line x1="1683.5" y1="538" x2="1683.5" y2="529.67" stroke="#000" stroke-width="1.04" stroke-linecap="butt"/>
<line x1="1683.5" y1="84" x2="1683.5" y2="92.33" stroke="#000" stroke-width="1.04" stroke-linecap="butt"/>
<text x="1683.5" y="560.4" font-size="16.67" font-family="'DejaVu Sans', 'Liberation Sans', sans-serif" text-anchor="middle" transform="matrix(1 0 0 1.07 0 -39.23)">80</text>
<line x1="1229" y1="437.5" x2="1237.33" y2="437.5" stroke="#000" stroke-width="1.04" stroke-linecap="butt"/>
<line x1="1683" y1="437.5" x2="1674.67" y2="437.5" stroke="#000" stroke-width="1.04" stroke-linecap="butt"/>
<text x="1220.4" y="442.2" font-size="16.67" font-family="'DejaVu Sans', 'Liberation Sans', sans-serif" text-anchor="end" transform="matrix(1 0 0 1.07 0 -30.95)">−50</text>
<line x1="1229" y1="311.5" x2="1237.33" y2="311.5" stroke="#000" stroke-width="1.04" stroke-linecap="butt"/>
<line x1="1683" y1="311.5" x2="1674.67" y2="311.5" stroke="#000" stroke-width="1.04" stroke-linecap="butt"/>
<text x="1220.4" y="316.2" font-size="16.67" font-family="'DejaVu Sans', 'Liberation Sans', sans-serif" text-anchor="end" transform="matrix(1 0 0 1.07 0 -22.13)">0</text>
<line x1="1229" y1="185.5" x2="1237.33" y2="185.5" stroke="#000" stroke-width="1.04" stroke-linecap="butt"/>
<line x1="1683" y1="185.5" x2="1674.67" y2="185.5" stroke="#000" stroke-width="1.04" stroke-linecap="butt"/>
<text x="1220.4" y="190.2" font-size="16.67" font-family="'DejaVu Sans', 'Liberation Sans', sans-serif" text-anchor="end" transform="matrix(1 0 0 1.07 0 -13.31)">50</text>
<rect x="1229" y="84" width="454" height="454" fill="none" stroke="#000" stroke-width="2"/>
<text x="1456" y="74" font-size="23.35" font-family="'DejaVu Sans', 'Liberation Sans', sans-serif" text-anchor="middle">Hodogram(V3_V1 MVAB frame)</text>
<text x="1456" y="591.4" font-size="16.67" font-family="'DejaVu Sans', 'Liberation Sans', sans-serif" text-anchor="middle" transform="matrix(1 0 0 1.07 0 -41.4)">V3(km/s)</text>
<text x="1169.7" y="313" font-size="16.67" font-family="'DejaVu Sans', 'Liberation Sans', sans-serif" text-anchor="middle" transform="rotate(-90 1169.7 313) matrix(1 0 0 1.07 0 -21.91)">V1(km/s)</text>
<rect x="1563" y="91.4" width="113" height="59.3" fill="#fff" stroke="#000" stroke-width="2.08"/>
<line x1="1573.4" y1="107.4" x2="1593.3" y2="107.4" stroke="#0000ff" stroke-width="2.08" stroke-linecap="butt"/>
<circle cx="1573.4" cy="107.4" r="3.12" fill="#0000ff" stroke="#0000ff" stroke-width="1.04"/>
<circle cx="1593.3" cy="107.4" r="3.12" fill="#0000ff" stroke="#0000ff" stroke-width="1.04"/>
<line x1="1573.4" y1="133.6" x2="1593.3" y2="133.6" stroke="#ff0000" stroke-width="2.08" stroke-linecap="butt"/>
<circle cx="1573.4" cy="133.6" r="3.12" fill="#ff0000" stroke="#ff0000" stroke-width="1.04"/>
<circle cx="1593.3" cy="133.6" r="3.12" fill="#ff0000" stroke="#ff0000" stroke-width="1.04"/>
<text x="1609.2" y="111" font-size="15.6" font-family="'DejaVu Sans', 'Liberation Sans', sans-serif">B/</text>
<text x="1624.7" y="113.9" font-size="17.8" font-family="'DejaVu Sans', 'Liberation Sans', sans-serif">√</text>
<line x1="1635.6" y1="99.5" x2="1663.8" y2="99.5" stroke="#000" stroke-width="0.9" stroke-linecap="butt"/>
<text x="1638.2" y="111" font-size="16.5" font-family="'Liberation Serif', 'DejaVu Serif', serif" font-style="italic">μ</text>
<text x="1646.9" y="113.6" font-size="11.5" font-family="'Liberation Serif', 'DejaVu Serif', serif">0</text>
<text x="1653.4" y="111" font-size="16.5" font-family="'Liberation Serif', 'DejaVu Serif', serif" font-style="italic">ρ</text>
<text x="1609.2" y="137.8" font-size="15.6" font-family="'DejaVu Sans', 'Liberation Sans', sans-serif">V</text>
<text x="1619.6" y="139.7" font-size="11.2" font-family="'Liberation Serif', 'DejaVu Serif', serif" font-style="italic" textLength="48.0" lengthAdjust="spacing">remaining</text>
<text x="1262.1" y="515.4" font-size="21" font-family="'Liberation Serif', 'DejaVu Serif', serif" font-style="italic">λ</text>
<text x="1270.8" y="518.7" font-size="13" font-family="'Liberation Serif', 'DejaVu Serif', serif">1</text>
<text x="1279.4" y="518.8" font-size="24.5" font-family="'Liberation Serif', 'DejaVu Serif', serif">/</text>
<text x="1290.2" y="515.4" font-size="21" font-family="'Liberation Serif', 'DejaVu Serif', serif" font-style="italic">λ</text>
<text x="1298.8" y="518.7" font-size="13" font-family="'Liberation Serif', 'DejaVu Serif', serif">3</text>
<text x="1309.1" y="517.6" font-size="21" font-family="'DejaVu Sans', 'Liberation Sans', sans-serif">≈</text>
<text x="1332.3" y="515.4" font-size="18.5" font-family="'DejaVu Sans', 'Liberation Sans', sans-serif">127.69</text>
<clipPath id="c4"><rect x="117" y="662" width="454" height="454"/></clipPath>
<g clip-path="url(#c4)">
<circle cx="287.1" cy="904.2" r="4.65" fill="#008000" stroke="#008000" stroke-width="1.6"/>
<circle cx="296.8" cy="906.2" r="4.65" fill="#008000" stroke="#008000" stroke-width="1.6"/>
<circle cx="295.1" cy="914.2" r="4.65" fill="#008000" stroke="#008000" stroke-width="1.6"/>
<circle cx="300.2" cy="916.4" r="4.65" fill="#008000" stroke="#008000" stroke-width="1.6"/>
<circle cx="301" cy="910.8" r="4.65" fill="#008000" stroke="#008000" stroke-width="1.6"/>
<circle cx="309.3" cy="914.5" r="4.65" fill="#008000" stroke="#008000" stroke-width="1.6"/>
<circle cx="313.6" cy="896" r="4.65" fill="#008000" stroke="#008000" stroke-width="1.6"/>
<circle cx="315.6" cy="905.6" r="4.65" fill="#008000" stroke="#008000" stroke-width="1.6"/>
<circle cx="314.4" cy="924.7" r="4.65" fill="#008000" stroke="#008000" stroke-width="1.6"/>
<circle cx="320.4" cy="934.4" r="4.65" fill="#008000" stroke="#008000" stroke-width="1.6"/>
<circle cx="331.5" cy="932.4" r="4.65" fill="#008000" stroke="#008000" stroke-width="1.6"/>
<circle cx="336.3" cy="921.3" r="4.65" fill="#008000" stroke="#008000" stroke-width="1.6"/>
<circle cx="341.8" cy="926.4" r="4.65" fill="#008000" stroke="#008000" stroke-width="1.6"/>
<circle cx="386.2" cy="971.4" r="4.65" fill="#ff0000" stroke="#ff0000" stroke-width="1.6"/>
<circle cx="390.5" cy="967.9" r="4.65" fill="#ff0000" stroke="#ff0000" stroke-width="1.6"/>
<circle cx="391.4" cy="978.5" r="4.65" fill="#ff0000" stroke="#ff0000" stroke-width="1.6"/>
<circle cx="397.3" cy="974.5" r="4.65" fill="#ff0000" stroke="#ff0000" stroke-width="1.6"/>
<circle cx="400.2" cy="979.6" r="4.65" fill="#ff0000" stroke="#ff0000" stroke-width="1.6"/>
<circle cx="408.4" cy="976.2" r="4.65" fill="#ff0000" stroke="#ff0000" stroke-width="1.6"/>
<circle cx="416.4" cy="976.2" r="4.65" fill="#ff0000" stroke="#ff0000" stroke-width="1.6"/>
<circle cx="422.4" cy="973.3" r="4.65" fill="#ff0000" stroke="#ff0000" stroke-width="1.6"/>
<circle cx="422.4" cy="987.3" r="4.65" fill="#ff0000" stroke="#ff0000" stroke-width="1.6"/>
<circle cx="415.6" cy="1007" r="4.65" fill="#ff0000" stroke="#ff0000" stroke-width="1.6"/>
<circle cx="427.9" cy="1042.2" r="4.65" fill="#ff0000" stroke="#ff0000" stroke-width="1.6"/>
<circle cx="501.8" cy="1034" r="4.65" fill="#ff0000" stroke="#ff0000" stroke-width="1.6"/>
<circle cx="502.5" cy="1034.4" r="4.65" fill="#ff0000" stroke="#ff0000" stroke-width="1.6"/>
<circle cx="571" cy="1037.3" r="4.65" fill="#0000ff" stroke="#0000ff" stroke-width="1.6"/>
<circle cx="520.4" cy="1059.4" r="4.65" fill="#0000ff" stroke="#0000ff" stroke-width="1.6"/>
<circle cx="549.3" cy="1056.5" r="4.65" fill="#0000ff" stroke="#0000ff" stroke-width="1.6"/>
<circle cx="554.4" cy="1057.2" r="4.65" fill="#0000ff" stroke="#0000ff" stroke-width="1.6"/>
<circle cx="560.5" cy="1056.8" r="4.65" fill="#0000ff" stroke="#0000ff" stroke-width="1.6"/>
<circle cx="568.5" cy="1057.2" r="4.65" fill="#0000ff" stroke="#0000ff" stroke-width="1.6"/>
<circle cx="546.4" cy="1065.8" r="4.65" fill="#0000ff" stroke="#0000ff" stroke-width="1.6"/>
<circle cx="561.4" cy="1067.4" r="4.65" fill="#0000ff" stroke="#0000ff" stroke-width="1.6"/>
<circle cx="544.5" cy="1077.3" r="4.65" fill="#0000ff" stroke="#0000ff" stroke-width="1.6"/>
<circle cx="539.3" cy="1086.3" r="4.65" fill="#0000ff" stroke="#0000ff" stroke-width="1.6"/>
<circle cx="557.6" cy="1083.4" r="4.65" fill="#0000ff" stroke="#0000ff" stroke-width="1.6"/>
<circle cx="545.4" cy="1098.2" r="4.65" fill="#0000ff" stroke="#0000ff" stroke-width="1.6"/>
<circle cx="546.4" cy="1108.4" r="4.65" fill="#0000ff" stroke="#0000ff" stroke-width="1.6"/>
<circle cx="516.3" cy="1116.4" r="4.65" fill="#0000ff" stroke="#0000ff" stroke-width="1.6"/>
<polyline points="117,792.68 566.44,1083.74" fill="none" stroke="#000" stroke-width="2.08" stroke-linejoin="round" stroke-linecap="butt" stroke-dasharray="12.5,12.5"/>
</g>
<line x1="117.5" y1="1116" x2="117.5" y2="1107.67" stroke="#000" stroke-width="1.04" stroke-linecap="butt"/>
<line x1="117.5" y1="662" x2="117.5" y2="670.33" stroke="#000" stroke-width="1.04" stroke-linecap="butt"/>
<text x="117.5" y="1138.4" font-size="16.67" font-family="'DejaVu Sans', 'Liberation Sans', sans-serif" text-anchor="middle" transform="matrix(1 0 0 1.07 0 -79.69)">−60</text>
<line x1="182.5" y1="1116" x2="182.5" y2="1107.67" stroke="#000" stroke-width="1.04" stroke-linecap="butt"/>
<line x1="182.5" y1="662" x2="182.5" y2="670.33" stroke="#000" stroke-width="1.04" stroke-linecap="butt"/>
<text x="182.5" y="1138.4" font-size="16.67" font-family="'DejaVu Sans', 'Liberation Sans', sans-serif" text-anchor="middle" transform="matrix(1 0 0 1.07 0 -79.69)">−40</text>
<line x1="247.5" y1="1116" x2="247.5" y2="1107.67" stroke="#000" stroke-width="1.04" stroke-linecap="butt"/>
<line x1="247.5" y1="662" x2="247.5" y2="670.33" stroke="#000" stroke-width="1.04" stroke-linecap="butt"/>
<text x="247.5" y="1138.4" font-size="16.67" font-family="'DejaVu Sans', 'Liberation Sans', sans-serif" text-anchor="middle" transform="matrix(1 0 0 1.07 0 -79.69)">−20</text>
<line x1="312.5" y1="1116" x2="312.5" y2="1107.67" stroke="#000" stroke-width="1.04" stroke-linecap="butt"/>
<line x1="312.5" y1="662" x2="312.5" y2="670.33" stroke="#000" stroke-width="1.04" stroke-linecap="butt"/>
<text x="312.5" y="1138.4" font-size="16.67" font-family="'DejaVu Sans', 'Liberation Sans', sans-serif" text-anchor="middle" transform="matrix(1 0 0 1.07 0 -79.69)">0</text>
<line x1="378.5" y1="1116" x2="378.5" y2="1107.67" stroke="#000" stroke-width="1.04" stroke-linecap="butt"/>
<line x1="378.5" y1="662" x2="378.5" y2="670.33" stroke="#000" stroke-width="1.04" stroke-linecap="butt"/>
<text x="378.5" y="1138.4" font-size="16.67" font-family="'DejaVu Sans', 'Liberation Sans', sans-serif" text-anchor="middle" transform="matrix(1 0 0 1.07 0 -79.69)">20</text>
<line x1="443.5" y1="1116" x2="443.5" y2="1107.67" stroke="#000" stroke-width="1.04" stroke-linecap="butt"/>
<line x1="443.5" y1="662" x2="443.5" y2="670.33" stroke="#000" stroke-width="1.04" stroke-linecap="butt"/>
<text x="443.5" y="1138.4" font-size="16.67" font-family="'DejaVu Sans', 'Liberation Sans', sans-serif" text-anchor="middle" transform="matrix(1 0 0 1.07 0 -79.69)">40</text>
<line x1="508.5" y1="1116" x2="508.5" y2="1107.67" stroke="#000" stroke-width="1.04" stroke-linecap="butt"/>
<line x1="508.5" y1="662" x2="508.5" y2="670.33" stroke="#000" stroke-width="1.04" stroke-linecap="butt"/>
<text x="508.5" y="1138.4" font-size="16.67" font-family="'DejaVu Sans', 'Liberation Sans', sans-serif" text-anchor="middle" transform="matrix(1 0 0 1.07 0 -79.69)">60</text>
<line x1="117" y1="1116.5" x2="125.33" y2="1116.5" stroke="#000" stroke-width="1.04" stroke-linecap="butt"/>
<line x1="571" y1="1116.5" x2="562.67" y2="1116.5" stroke="#000" stroke-width="1.04" stroke-linecap="butt"/>
<text x="108.4" y="1121.2" font-size="16.67" font-family="'DejaVu Sans', 'Liberation Sans', sans-serif" text-anchor="end" transform="matrix(1 0 0 1.07 0 -78.48)">−60</text>
<line x1="117" y1="1051.5" x2="125.33" y2="1051.5" stroke="#000" stroke-width="1.04" stroke-linecap="butt"/>
<line x1="571" y1="1051.5" x2="562.67" y2="1051.5" stroke="#000" stroke-width="1.04" stroke-linecap="butt"/>
<text x="108.4" y="1056.2" font-size="16.67" font-family="'DejaVu Sans', 'Liberation Sans', sans-serif" text-anchor="end" transform="matrix(1 0 0 1.07 0 -73.93)">−40</text>
<line x1="117" y1="986.5" x2="125.33" y2="986.5" stroke="#000" stroke-width="1.04" stroke-linecap="butt"/>
<line x1="571" y1="986.5" x2="562.67" y2="986.5" stroke="#000" stroke-width="1.04" stroke-linecap="butt"/>
<text x="108.4" y="991.2" font-size="16.67" font-family="'DejaVu Sans', 'Liberation Sans', sans-serif" text-anchor="end" transform="matrix(1 0 0 1.07 0 -69.38)">−20</text>
<line x1="117" y1="921.5" x2="125.33" y2="921.5" stroke="#000" stroke-width="1.04" stroke-linecap="butt"/>
<line x1="571" y1="921.5" x2="562.67" y2="921.5" stroke="#000" stroke-width="1.04" stroke-linecap="butt"/>
<text x="108.4" y="926.2" font-size="16.67" font-family="'DejaVu Sans', 'Liberation Sans', sans-serif" text-anchor="end" transform="matrix(1 0 0 1.07 0 -64.83)">0</text>
<line x1="117" y1="856.5" x2="125.33" y2="856.5" stroke="#000" stroke-width="1.04" stroke-linecap="butt"/>
<line x1="571" y1="856.5" x2="562.67" y2="856.5" stroke="#000" stroke-width="1.04" stroke-linecap="butt"/>
<text x="108.4" y="861.2" font-size="16.67" font-family="'DejaVu Sans', 'Liberation Sans', sans-serif" text-anchor="end" transform="matrix(1 0 0 1.07 0 -60.28)">20</text>
<line x1="117" y1="791.5" x2="125.33" y2="791.5" stroke="#000" stroke-width="1.04" stroke-linecap="butt"/>
<line x1="571" y1="791.5" x2="562.67" y2="791.5" stroke="#000" stroke-width="1.04" stroke-linecap="butt"/>
<text x="108.4" y="796.2" font-size="16.67" font-family="'DejaVu Sans', 'Liberation Sans', sans-serif" text-anchor="end" transform="matrix(1 0 0 1.07 0 -55.73)">40</text>
<line x1="117" y1="726.5" x2="125.33" y2="726.5" stroke="#000" stroke-width="1.04" stroke-linecap="butt"/>
<line x1="571" y1="726.5" x2="562.67" y2="726.5" stroke="#000" stroke-width="1.04" stroke-linecap="butt"/>
<text x="108.4" y="731.2" font-size="16.67" font-family="'DejaVu Sans', 'Liberation Sans', sans-serif" text-anchor="end" transform="matrix(1 0 0 1.07 0 -51.18)">60</text>
<rect x="117" y="662" width="454" height="454" fill="none" stroke="#000" stroke-width="2"/>
<text x="344" y="652" font-size="23.35" font-family="'DejaVu Sans', 'Liberation Sans', sans-serif" text-anchor="middle">WalenTest</text>
<text x="344" y="1167.4" font-size="16.67" font-family="'DejaVu Sans', 'Liberation Sans', sans-serif" text-anchor="middle"><tspan font-family="'DejaVu Sans', 'Liberation Sans', sans-serif">V</tspan><tspan font-family="'Liberation Serif', 'DejaVu Serif', serif" font-style="italic" font-size="11.67" dy="3">A</tspan><tspan font-family="'DejaVu Sans', 'Liberation Sans', sans-serif" dy="-3">(km/s)</tspan></text>
<text x="54.2" y="889" font-size="16.67" font-family="'DejaVu Sans', 'Liberation Sans', sans-serif" text-anchor="middle" transform="rotate(-90 54.2 889)"><tspan font-family="'DejaVu Sans', 'Liberation Sans', sans-serif">V</tspan><tspan font-family="'Liberation Serif', 'DejaVu Serif', serif" font-style="italic" font-size="11.67" textLength="54.5" lengthAdjust="spacing" dy="1">remaining</tspan><tspan font-family="'DejaVu Sans', 'Liberation Sans', sans-serif" dy="-1">(km/s)</tspan></text>
<rect x="125.3" y="669" width="144.5" height="71.9" fill="#fff" stroke="#000" stroke-width="2.08"/>
<text x="128.5" y="686.3" font-size="18.5" font-family="'DejaVu Sans', 'Liberation Sans', sans-serif">slope = -0.649</text>
<text x="129.6" y="708.3" font-size="19.5" font-family="'Liberation Serif', 'DejaVu Serif', serif" font-style="italic">r</text>
<text x="143.2" y="708.3" font-size="18.5" font-family="'DejaVu Sans', 'Liberation Sans', sans-serif">= -0.956</text>
<text x="130.2" y="730.3" font-size="19.5" font-family="'Liberation Serif', 'DejaVu Serif', serif" font-style="italic">M</text>
<text x="147.2" y="733" font-size="13.7" font-family="'Liberation Serif', 'DejaVu Serif', serif" font-style="italic">A</text>
<text x="163.8" y="730.3" font-size="18.5" font-family="'DejaVu Sans', 'Liberation Sans', sans-serif">=</text>
<text x="185" y="730.3" font-size="18.5" font-family="'DejaVu Sans', 'Liberation Sans', sans-serif">0.653</text>
<clipPath id="c5"><rect x="673" y="662" width="454" height="454"/></clipPath>
<line x1="730.5" y1="1116" x2="730.5" y2="662" stroke="#000" stroke-width="1.04" stroke-dasharray="2.08,6.25" stroke-linecap="butt"/>
<line x1="787.5" y1="1116" x2="787.5" y2="662" stroke="#000" stroke-width="1.04" stroke-dasharray="2.08,6.25" stroke-linecap="butt"/>
<line x1="843.5" y1="1116" x2="843.5" y2="662" stroke="#000" stroke-width="1.04" stroke-dasharray="2.08,6.25" stroke-linecap="butt"/>
<line x1="900.5" y1="1116" x2="900.5" y2="662" stroke="#000" stroke-width="1.04" stroke-dasharray="2.08,6.25" stroke-linecap="butt"/>
<line x1="957.5" y1="1116" x2="957.5" y2="662" stroke="#000" stroke-width="1.04" stroke-dasharray="2.08,6.25" stroke-linecap="butt"/>
<line x1="1014.5" y1="1116" x2="1014.5" y2="662" stroke="#000" stroke-width="1.04" stroke-dasharray="2.08,6.25" stroke-linecap="butt"/>
<line x1="1070.5" y1="1116" x2="1070.5" y2="662" stroke="#000" stroke-width="1.04" stroke-dasharray="2.08,6.25" stroke-linecap="butt"/>
<line x1="1127.5" y1="1116" x2="1127.5" y2="662" stroke="#000" stroke-width="1.04" stroke-dasharray="2.08,6.25" stroke-linecap="butt"/>
<line x1="673" y1="1060.5" x2="1127" y2="1060.5" stroke="#000" stroke-width="1.04" stroke-dasharray="2.08,6.25" stroke-linecap="butt"/>
<line x1="673" y1="1003.5" x2="1127" y2="1003.5" stroke="#000" stroke-width="1.04" stroke-dasharray="2.08,6.25" stroke-linecap="butt"/>
<line x1="673" y1="946.5" x2="1127" y2="946.5" stroke="#000" stroke-width="1.04" stroke-dasharray="2.08,6.25" stroke-linecap="butt"/>
<line x1="673" y1="889.5" x2="1127" y2="889.5" stroke="#000" stroke-width="1.04" stroke-dasharray="2.08,6.25" stroke-linecap="butt"/>
<line x1="673" y1="833.5" x2="1127" y2="833.5" stroke="#000" stroke-width="1.04" stroke-dasharray="2.08,6.25" stroke-linecap="butt"/>
<line x1="673" y1="776.5" x2="1127" y2="776.5" stroke="#000" stroke-width="1.04" stroke-dasharray="2.08,6.25" stroke-linecap="butt"/>
<line x1="673" y1="719.5" x2="1127" y2="719.5" stroke="#000" stroke-width="1.04" stroke-dasharray="2.08,6.25" stroke-linecap="butt"/>
<g clip-path="url(#c5)">
<polyline points="767.4,847.5 898.1,692.5 901.3,852.3 904.5,1012.4 903.6,998.9 902.4,987 963.1,933.2 1024.1,879.4 1020.1,931.2 934.4,997.4 848.4,1063.4 894.2,1008.3 939.3,954.5 888.3,967.3" fill="none" stroke="#0000ff" stroke-width="2.08" stroke-linejoin="round" stroke-linecap="butt"/>
<circle cx="767.4" cy="847.5" r="3.12" fill="#0000ff" stroke="#0000ff" stroke-width="1.04"/>
<circle cx="898.1" cy="692.5" r="3.12" fill="#0000ff" stroke="#0000ff" stroke-width="1.04"/>
<circle cx="901.3" cy="852.3" r="3.12" fill="#0000ff" stroke="#0000ff" stroke-width="1.04"/>
<circle cx="904.5" cy="1012.4" r="3.12" fill="#0000ff" stroke="#0000ff" stroke-width="1.04"/>
<circle cx="903.6" cy="998.9" r="3.12" fill="#0000ff" stroke="#0000ff" stroke-width="1.04"/>
<circle cx="902.4" cy="987" r="3.12" fill="#0000ff" stroke="#0000ff" stroke-width="1.04"/>
<circle cx="963.1" cy="933.2" r="3.12" fill="#0000ff" stroke="#0000ff" stroke-width="1.04"/>
<circle cx="1024.1" cy="879.4" r="3.12" fill="#0000ff" stroke="#0000ff" stroke-width="1.04"/>
<circle cx="1020.1" cy="931.2" r="3.12" fill="#0000ff" stroke="#0000ff" stroke-width="1.04"/>
<circle cx="934.4" cy="997.4" r="3.12" fill="#0000ff" stroke="#0000ff" stroke-width="1.04"/>
<circle cx="848.4" cy="1063.4" r="3.12" fill="#0000ff" stroke="#0000ff" stroke-width="1.04"/>
<circle cx="894.2" cy="1008.3" r="3.12" fill="#0000ff" stroke="#0000ff" stroke-width="1.04"/>
<circle cx="939.3" cy="954.5" r="3.12" fill="#0000ff" stroke="#0000ff" stroke-width="1.04"/>
<circle cx="888.3" cy="967.3" r="3.12" fill="#0000ff" stroke="#0000ff" stroke-width="1.04"/>
</g>
<line x1="673.5" y1="1116" x2="673.5" y2="1107.67" stroke="#000" stroke-width="1.04" stroke-linecap="butt"/>
<line x1="673.5" y1="662" x2="673.5" y2="670.33" stroke="#000" stroke-width="1.04" stroke-linecap="butt"/>
<text x="673.5" y="1138.4" font-size="16.67" font-family="'DejaVu Sans', 'Liberation Sans', sans-serif" text-anchor="middle" transform="matrix(1 0 0 1.07 0 -79.69)">0</text>
<line x1="730.5" y1="1116" x2="730.5" y2="1107.67" stroke="#000" stroke-width="1.04" stroke-linecap="butt"/>
<line x1="730.5" y1="662" x2="730.5" y2="670.33" stroke="#000" stroke-width="1.04" stroke-linecap="butt"/>
<text x="730.5" y="1138.4" font-size="16.67" font-family="'DejaVu Sans', 'Liberation Sans', sans-serif" text-anchor="middle" transform="matrix(1 0 0 1.07 0 -79.69)">5</text>
<line x1="787.5" y1="1116" x2="787.5" y2="1107.67" stroke="#000" stroke-width="1.04" stroke-linecap="butt"/>
<line x1="787.5" y1="662" x2="787.5" y2="670.33" stroke="#000" stroke-width="1.04" stroke-linecap="butt"/>
<text x="787.5" y="1138.4" font-size="16.67" font-family="'DejaVu Sans', 'Liberation Sans', sans-serif" text-anchor="middle" transform="matrix(1 0 0 1.07 0 -79.69)">10</text>
<line x1="843.5" y1="1116" x2="843.5" y2="1107.67" stroke="#000" stroke-width="1.04" stroke-linecap="butt"/>
<line x1="843.5" y1="662" x2="843.5" y2="670.33" stroke="#000" stroke-width="1.04" stroke-linecap="butt"/>
<text x="843.5" y="1138.4" font-size="16.67" font-family="'DejaVu Sans', 'Liberation Sans', sans-serif" text-anchor="middle" transform="matrix(1 0 0 1.07 0 -79.69)">15</text>
<line x1="900.5" y1="1116" x2="900.5" y2="1107.67" stroke="#000" stroke-width="1.04" stroke-linecap="butt"/>
<line x1="900.5" y1="662" x2="900.5" y2="670.33" stroke="#000" stroke-width="1.04" stroke-linecap="butt"/>
<text x="900.5" y="1138.4" font-size="16.67" font-family="'DejaVu Sans', 'Liberation Sans', sans-serif" text-anchor="middle" transform="matrix(1 0 0 1.07 0 -79.69)">20</text>
<line x1="957.5" y1="1116" x2="957.5" y2="1107.67" stroke="#000" stroke-width="1.04" stroke-linecap="butt"/>
<line x1="957.5" y1="662" x2="957.5" y2="670.33" stroke="#000" stroke-width="1.04" stroke-linecap="butt"/>
<text x="957.5" y="1138.4" font-size="16.67" font-family="'DejaVu Sans', 'Liberation Sans', sans-serif" text-anchor="middle" transform="matrix(1 0 0 1.07 0 -79.69)">25</text>
<line x1="1014.5" y1="1116" x2="1014.5" y2="1107.67" stroke="#000" stroke-width="1.04" stroke-linecap="butt"/>
<line x1="1014.5" y1="662" x2="1014.5" y2="670.33" stroke="#000" stroke-width="1.04" stroke-linecap="butt"/>
<text x="1014.5" y="1138.4" font-size="16.67" font-family="'DejaVu Sans', 'Liberation Sans', sans-serif" text-anchor="middle" transform="matrix(1 0 0 1.07 0 -79.69)">30</text>
<line x1="1070.5" y1="1116" x2="1070.5" y2="1107.67" stroke="#000" stroke-width="1.04" stroke-linecap="butt"/>
<line x1="1070.5" y1="662" x2="1070.5" y2="670.33" stroke="#000" stroke-width="1.04" stroke-linecap="butt"/>
<text x="1070.5" y="1138.4" font-size="16.67" font-family="'DejaVu Sans', 'Liberation Sans', sans-serif" text-anchor="middle" transform="matrix(1 0 0 1.07 0 -79.69)">35</text>
<line x1="1127.5" y1="1116" x2="1127.5" y2="1107.67" stroke="#000" stroke-width="1.04" stroke-linecap="butt"/>
<line x1="1127.5" y1="662" x2="1127.5" y2="670.33" stroke="#000" stroke-width="1.04" stroke-linecap="butt"/>
<text x="1127.5" y="1138.4" font-size="16.67" font-family="'DejaVu Sans', 'Liberation Sans', sans-serif" text-anchor="middle" transform="matrix(1 0 0 1.07 0 -79.69)">40</text>
<line x1="673" y1="1116.5" x2="681.33" y2="1116.5" stroke="#000" stroke-width="1.04" stroke-linecap="butt"/>
<line x1="1127" y1="1116.5" x2="1118.67" y2="1116.5" stroke="#000" stroke-width="1.04" stroke-linecap="butt"/>
<text x="664.4" y="1121.2" font-size="16.67" font-family="'DejaVu Sans', 'Liberation Sans', sans-serif" text-anchor="end" transform="matrix(1 0 0 1.07 0 -78.48)">30</text>
<line x1="673" y1="1060.5" x2="681.33" y2="1060.5" stroke="#000" stroke-width="1.04" stroke-linecap="butt"/>
<line x1="1127" y1="1060.5" x2="1118.67" y2="1060.5" stroke="#000" stroke-width="1.04" stroke-linecap="butt"/>
<text x="664.4" y="1065.2" font-size="16.67" font-family="'DejaVu Sans', 'Liberation Sans', sans-serif" text-anchor="end" transform="matrix(1 0 0 1.07 0 -74.56)">35</text>
<line x1="673" y1="1003.5" x2="681.33" y2="1003.5" stroke="#000" stroke-width="1.04" stroke-linecap="butt"/>
<line x1="1127" y1="1003.5" x2="1118.67" y2="1003.5" stroke="#000" stroke-width="1.04" stroke-linecap="butt"/>
<text x="664.4" y="1008.2" font-size="16.67" font-family="'DejaVu Sans', 'Liberation Sans', sans-serif" text-anchor="end" transform="matrix(1 0 0 1.07 0 -70.57)">40</text>
<line x1="673" y1="946.5" x2="681.33" y2="946.5" stroke="#000" stroke-width="1.04" stroke-linecap="butt"/>
<line x1="1127" y1="946.5" x2="1118.67" y2="946.5" stroke="#000" stroke-width="1.04" stroke-linecap="butt"/>
<text x="664.4" y="951.2" font-size="16.67" font-family="'DejaVu Sans', 'Liberation Sans', sans-serif" text-anchor="end" transform="matrix(1 0 0 1.07 0 -66.58)">45</text>
<line x1="673" y1="889.5" x2="681.33" y2="889.5" stroke="#000" stroke-width="1.04" stroke-linecap="butt"/>
<line x1="1127" y1="889.5" x2="1118.67" y2="889.5" stroke="#000" stroke-width="1.04" stroke-linecap="butt"/>
<text x="664.4" y="894.2" font-size="16.67" font-family="'DejaVu Sans', 'Liberation Sans', sans-serif" text-anchor="end" transform="matrix(1 0 0 1.07 0 -62.59)">50</text>
<line x1="673" y1="833.5" x2="681.33" y2="833.5" stroke="#000" stroke-width="1.04" stroke-linecap="butt"/>
<line x1="1127" y1="833.5" x2="1118.67" y2="833.5" stroke="#000" stroke-width="1.04" stroke-linecap="butt"/>
<text x="664.4" y="838.2" font-size="16.67" font-family="'DejaVu Sans', 'Liberation Sans', sans-serif" text-anchor="end" transform="matrix(1 0 0 1.07 0 -58.67)">55</text>
<line x1="673" y1="776.5" x2="681.33" y2="776.5" stroke="#000" stroke-width="1.04" stroke-linecap="butt"/>
<line x1="1127" y1="776.5" x2="1118.67" y2="776.5" stroke="#000" stroke-width="1.04" stroke-linecap="butt"/>
<text x="664.4" y="781.2" font-size="16.67" font-family="'DejaVu Sans', 'Liberation Sans', sans-serif" text-anchor="end" transform="matrix(1 0 0 1.07 0 -54.68)">60</text>
<line x1="673" y1="719.5" x2="681.33" y2="719.5" stroke="#000" stroke-width="1.04" stroke-linecap="butt"/>
<line x1="1127" y1="719.5" x2="1118.67" y2="719.5" stroke="#000" stroke-width="1.04" stroke-linecap="butt"/>
<text x="664.4" y="724.2" font-size="16.67" font-family="'DejaVu Sans', 'Liberation Sans', sans-serif" text-anchor="end" transform="matrix(1 0 0 1.07 0 -50.69)">65</text>
<line x1="673" y1="662.5" x2="681.33" y2="662.5" stroke="#000" stroke-width="1.04" stroke-linecap="butt"/>
<line x1="1127" y1="662.5" x2="1118.67" y2="662.5" stroke="#000" stroke-width="1.04" stroke-linecap="butt"/>
<text x="664.4" y="667.2" font-size="16.67" font-family="'DejaVu Sans', 'Liberation Sans', sans-serif" text-anchor="end" transform="matrix(1 0 0 1.07 0 -46.7)">70</text>
<rect x="673" y="662" width="454" height="454" fill="none" stroke="#000" stroke-width="2"/>
<text x="900" y="649.7" font-size="23.35" font-family="'DejaVu Sans', 'Liberation Sans', sans-serif" text-anchor="middle"><tspan font-family="'DejaVu Sans', 'Liberation Sans', sans-serif">Hodogram (V2_V1 MVAV</tspan><tspan font-family="'Liberation Serif', 'DejaVu Serif', serif" font-style="italic" font-size="16.34" textLength="75" lengthAdjust="spacing" dx="0.8" dy="2.8">remaining</tspan><tspan font-family="'DejaVu Sans', 'Liberation Sans', sans-serif" dy="-2.8"> frame)</tspan></text>
<text x="900" y="1169.4" font-size="16.67" font-family="'DejaVu Sans', 'Liberation Sans', sans-serif" text-anchor="middle" transform="matrix(1 0 0 1.07 0 -81.86)">V2(km/s)</text>
<text x="627.7" y="891" font-size="16.67" font-family="'DejaVu Sans', 'Liberation Sans', sans-serif" text-anchor="middle" transform="rotate(-90 627.7 891) matrix(1 0 0 1.07 0 -62.37)">V1(km/s)</text>
<text x="686.4" y="1093.4" font-size="21" font-family="'Liberation Serif', 'DejaVu Serif', serif" font-style="italic">λ</text>
<text x="695.1" y="1096.7" font-size="13" font-family="'Liberation Serif', 'DejaVu Serif', serif">1</text>
<text x="703.7" y="1096.8" font-size="24.5" font-family="'Liberation Serif', 'DejaVu Serif', serif">/</text>
<text x="714.5" y="1093.4" font-size="21" font-family="'Liberation Serif', 'DejaVu Serif', serif" font-style="italic">λ</text>
<text x="723.1" y="1096.7" font-size="13" font-family="'Liberation Serif', 'DejaVu Serif', serif">2</text>
<text x="733.4" y="1095.6" font-size="21" font-family="'DejaVu Sans', 'Liberation Sans', sans-serif">≈</text>
<text x="756.6" y="1093.4" font-size="18.5" font-family="'DejaVu Sans', 'Liberation Sans', sans-serif">2.13</text>
<clipPath id="c6"><rect x="1229" y="662" width="454" height="454"/></clipPath>
<line x1="1252.5" y1="1116" x2="1252.5" y2="662" stroke="#000" stroke-width="1.04" stroke-dasharray="2.08,6.25" stroke-linecap="butt"/>
<line x1="1309.5" y1="1116" x2="1309.5" y2="662" stroke="#000" stroke-width="1.04" stroke-dasharray="2.08,6.25" stroke-linecap="butt"/>
<line x1="1366.5" y1="1116" x2="1366.5" y2="662" stroke="#000" stroke-width="1.04" stroke-dasharray="2.08,6.25" stroke-linecap="butt"/>
<line x1="1423.5" y1="1116" x2="1423.5" y2="662" stroke="#000" stroke-width="1.04" stroke-dasharray="2.08,6.25" stroke-linecap="butt"/>
<line x1="1479.5" y1="1116" x2="1479.5" y2="662" stroke="#000" stroke-width="1.04" stroke-dasharray="2.08,6.25" stroke-linecap="butt"/>
<line x1="1536.5" y1="1116" x2="1536.5" y2="662" stroke="#000" stroke-width="1.04" stroke-dasharray="2.08,6.25" stroke-linecap="butt"/>
<line x1="1593.5" y1="1116" x2="1593.5" y2="662" stroke="#000" stroke-width="1.04" stroke-dasharray="2.08,6.25" stroke-linecap="butt"/>
<line x1="1650.5" y1="1116" x2="1650.5" y2="662" stroke="#000" stroke-width="1.04" stroke-dasharray="2.08,6.25" stroke-linecap="butt"/>
<line x1="1229" y1="1060.5" x2="1683" y2="1060.5" stroke="#000" stroke-width="1.04" stroke-dasharray="2.08,6.25" stroke-linecap="butt"/>
<line x1="1229" y1="1003.5" x2="1683" y2="1003.5" stroke="#000" stroke-width="1.04" stroke-dasharray="2.08,6.25" stroke-linecap="butt"/>
<line x1="1229" y1="946.5" x2="1683" y2="946.5" stroke="#000" stroke-width="1.04" stroke-dasharray="2.08,6.25" stroke-linecap="butt"/>
<line x1="1229" y1="889.5" x2="1683" y2="889.5" stroke="#000" stroke-width="1.04" stroke-dasharray="2.08,6.25" stroke-linecap="butt"/>
<line x1="1229" y1="833.5" x2="1683" y2="833.5" stroke="#000" stroke-width="1.04" stroke-dasharray="2.08,6.25" stroke-linecap="butt"/>
<line x1="1229" y1="776.5" x2="1683" y2="776.5" stroke="#000" stroke-width="1.04" stroke-dasharray="2.08,6.25" stroke-linecap="butt"/>
<line x1="1229" y1="719.5" x2="1683" y2="719.5" stroke="#000" stroke-width="1.04" stroke-dasharray="2.08,6.25" stroke-linecap="butt"/>
<g clip-path="url(#c6)">
<polyline points="1443,847.5 1437,692.5 1445.4,852.3 1452.3,1012.4 1486.4,999.3 1520.3,987.3 1473.4,933.2 1426.4,879.3 1429.5,931.5 1420.1,997.3 1411.2,1063.6 1416.5,1008.4 1421.3,954.3 1382.5,967.4" fill="none" stroke="#0000ff" stroke-width="2.08" stroke-linejoin="round" stroke-linecap="butt"/>
<circle cx="1443" cy="847.5" r="3.12" fill="#0000ff" stroke="#0000ff" stroke-width="1.04"/>
<circle cx="1437" cy="692.5" r="3.12" fill="#0000ff" stroke="#0000ff" stroke-width="1.04"/>
<circle cx="1445.4" cy="852.3" r="3.12" fill="#0000ff" stroke="#0000ff" stroke-width="1.04"/>
<circle cx="1452.3" cy="1012.4" r="3.12" fill="#0000ff" stroke="#0000ff" stroke-width="1.04"/>
<circle cx="1486.4" cy="999.3" r="3.12" fill="#0000ff" stroke="#0000ff" stroke-width="1.04"/>
<circle cx="1520.3" cy="987.3" r="3.12" fill="#0000ff" stroke="#0000ff" stroke-width="1.04"/>
<circle cx="1473.4" cy="933.2" r="3.12" fill="#0000ff" stroke="#0000ff" stroke-width="1.04"/>
<circle cx="1426.4" cy="879.3" r="3.12" fill="#0000ff" stroke="#0000ff" stroke-width="1.04"/>
<circle cx="1429.5" cy="931.5" r="3.12" fill="#0000ff" stroke="#0000ff" stroke-width="1.04"/>
<circle cx="1420.1" cy="997.3" r="3.12" fill="#0000ff" stroke="#0000ff" stroke-width="1.04"/>
<circle cx="1411.2" cy="1063.6" r="3.12" fill="#0000ff" stroke="#0000ff" stroke-width="1.04"/>
<circle cx="1416.5" cy="1008.4" r="3.12" fill="#0000ff" stroke="#0000ff" stroke-width="1.04"/>
<circle cx="1421.3" cy="954.3" r="3.12" fill="#0000ff" stroke="#0000ff" stroke-width="1.04"/>
<circle cx="1382.5" cy="967.4" r="3.12" fill="#0000ff" stroke="#0000ff" stroke-width="1.04"/>
</g>
<line x1="1252.5" y1="1116" x2="1252.5" y2="1107.67" stroke="#000" stroke-width="1.04" stroke-linecap="butt"/>
<line x1="1252.5" y1="662" x2="1252.5" y2="670.33" stroke="#000" stroke-width="1.04" stroke-linecap="butt"/>
<text x="1252.5" y="1138.4" font-size="16.67" font-family="'DejaVu Sans', 'Liberation Sans', sans-serif" text-anchor="middle" transform="matrix(1 0 0 1.07 0 -79.69)">−25</text>
<line x1="1309.5" y1="1116" x2="1309.5" y2="1107.67" stroke="#000" stroke-width="1.04" stroke-linecap="butt"/>
<line x1="1309.5" y1="662" x2="1309.5" y2="670.33" stroke="#000" stroke-width="1.04" stroke-linecap="butt"/>
<text x="1309.5" y="1138.4" font-size="16.67" font-family="'DejaVu Sans', 'Liberation Sans', sans-serif" text-anchor="middle" transform="matrix(1 0 0 1.07 0 -79.69)">−20</text>
<line x1="1366.5" y1="1116" x2="1366.5" y2="1107.67" stroke="#000" stroke-width="1.04" stroke-linecap="butt"/>
<line x1="1366.5" y1="662" x2="1366.5" y2="670.33" stroke="#000" stroke-width="1.04" stroke-linecap="butt"/>
<text x="1366.5" y="1138.4" font-size="16.67" font-family="'DejaVu Sans', 'Liberation Sans', sans-serif" text-anchor="middle" transform="matrix(1 0 0 1.07 0 -79.69)">−15</text>
<line x1="1423.5" y1="1116" x2="1423.5" y2="1107.67" stroke="#000" stroke-width="1.04" stroke-linecap="butt"/>
<line x1="1423.5" y1="662" x2="1423.5" y2="670.33" stroke="#000" stroke-width="1.04" stroke-linecap="butt"/>
<text x="1423.5" y="1138.4" font-size="16.67" font-family="'DejaVu Sans', 'Liberation Sans', sans-serif" text-anchor="middle" transform="matrix(1 0 0 1.07 0 -79.69)">−10</text>
<line x1="1479.5" y1="1116" x2="1479.5" y2="1107.67" stroke="#000" stroke-width="1.04" stroke-linecap="butt"/>
<line x1="1479.5" y1="662" x2="1479.5" y2="670.33" stroke="#000" stroke-width="1.04" stroke-linecap="butt"/>
<text x="1479.5" y="1138.4" font-size="16.67" font-family="'DejaVu Sans', 'Liberation Sans', sans-serif" text-anchor="middle" transform="matrix(1 0 0 1.07 0 -79.69)">−5</text>
<line x1="1536.5" y1="1116" x2="1536.5" y2="1107.67" stroke="#000" stroke-width="1.04" stroke-linecap="butt"/>
<line x1="1536.5" y1="662" x2="1536.5" y2="670.33" stroke="#000" stroke-width="1.04" stroke-linecap="butt"/>
<text x="1536.5" y="1138.4" font-size="16.67" font-family="'DejaVu Sans', 'Liberation Sans', sans-serif" text-anchor="middle" transform="matrix(1 0 0 1.07 0 -79.69)">0</text>
<line x1="1593.5" y1="1116" x2="1593.5" y2="1107.67" stroke="#000" stroke-width="1.04" stroke-linecap="butt"/>
<line x1="1593.5" y1="662" x2="1593.5" y2="670.33" stroke="#000" stroke-width="1.04" stroke-linecap="butt"/>
<text x="1593.5" y="1138.4" font-size="16.67" font-family="'DejaVu Sans', 'Liberation Sans', sans-serif" text-anchor="middle" transform="matrix(1 0 0 1.07 0 -79.69)">5</text>
<line x1="1650.5" y1="1116" x2="1650.5" y2="1107.67" stroke="#000" stroke-width="1.04" stroke-linecap="butt"/>
<line x1="1650.5" y1="662" x2="1650.5" y2="670.33" stroke="#000" stroke-width="1.04" stroke-linecap="butt"/>
<text x="1650.5" y="1138.4" font-size="16.67" font-family="'DejaVu Sans', 'Liberation Sans', sans-serif" text-anchor="middle" transform="matrix(1 0 0 1.07 0 -79.69)">10</text>
<line x1="1229" y1="1116.5" x2="1237.33" y2="1116.5" stroke="#000" stroke-width="1.04" stroke-linecap="butt"/>
<line x1="1683" y1="1116.5" x2="1674.67" y2="1116.5" stroke="#000" stroke-width="1.04" stroke-linecap="butt"/>
<text x="1220.4" y="1121.2" font-size="16.67" font-family="'DejaVu Sans', 'Liberation Sans', sans-serif" text-anchor="end" transform="matrix(1 0 0 1.07 0 -78.48)">30</text>
<line x1="1229" y1="1060.5" x2="1237.33" y2="1060.5" stroke="#000" stroke-width="1.04" stroke-linecap="butt"/>
<line x1="1683" y1="1060.5" x2="1674.67" y2="1060.5" stroke="#000" stroke-width="1.04" stroke-linecap="butt"/>
<text x="1220.4" y="1065.2" font-size="16.67" font-family="'DejaVu Sans', 'Liberation Sans', sans-serif" text-anchor="end" transform="matrix(1 0 0 1.07 0 -74.56)">35</text>
<line x1="1229" y1="1003.5" x2="1237.33" y2="1003.5" stroke="#000" stroke-width="1.04" stroke-linecap="butt"/>
<line x1="1683" y1="1003.5" x2="1674.67" y2="1003.5" stroke="#000" stroke-width="1.04" stroke-linecap="butt"/>
<text x="1220.4" y="1008.2" font-size="16.67" font-family="'DejaVu Sans', 'Liberation Sans', sans-serif" text-anchor="end" transform="matrix(1 0 0 1.07 0 -70.57)">40</text>
<line x1="1229" y1="946.5" x2="1237.33" y2="946.5" stroke="#000" stroke-width="1.04" stroke-linecap="butt"/>
<line x1="1683" y1="946.5" x2="1674.67" y2="946.5" stroke="#000" stroke-width="1.04" stroke-linecap="butt"/>
<text x="1220.4" y="951.2" font-size="16.67" font-family="'DejaVu Sans', 'Liberation Sans', sans-serif" text-anchor="end" transform="matrix(1 0 0 1.07 0 -66.58)">45</text>
<line x1="1229" y1="889.5" x2="1237.33" y2="889.5" stroke="#000" stroke-width="1.04" stroke-linecap="butt"/>
<line x1="1683" y1="889.5" x2="1674.67" y2="889.5" stroke="#000" stroke-width="1.04" stroke-linecap="butt"/>
<text x="1220.4" y="894.2" font-size="16.67" font-family="'DejaVu Sans', 'Liberation Sans', sans-serif" text-anchor="end" transform="matrix(1 0 0 1.07 0 -62.59)">50</text>
<line x1="1229" y1="833.5" x2="1237.33" y2="833.5" stroke="#000" stroke-width="1.04" stroke-linecap="butt"/>
<line x1="1683" y1="833.5" x2="1674.67" y2="833.5" stroke="#000" stroke-width="1.04" stroke-linecap="butt"/>
<text x="1220.4" y="838.2" font-size="16.67" font-family="'DejaVu Sans', 'Liberation Sans', sans-serif" text-anchor="end" transform="matrix(1 0 0 1.07 0 -58.67)">55</text>
<line x1="1229" y1="776.5" x2="1237.33" y2="776.5" stroke="#000" stroke-width="1.04" stroke-linecap="butt"/>
<line x1="1683" y1="776.5" x2="1674.67" y2="776.5" stroke="#000" stroke-width="1.04" stroke-linecap="butt"/>
<text x="1220.4" y="781.2" font-size="16.67" font-family="'DejaVu Sans', 'Liberation Sans', sans-serif" text-anchor="end" transform="matrix(1 0 0 1.07 0 -54.68)">60</text>
<line x1="1229" y1="719.5" x2="1237.33" y2="719.5" stroke="#000" stroke-width="1.04" stroke-linecap="butt"/>
<line x1="1683" y1="719.5" x2="1674.67" y2="719.5" stroke="#000" stroke-width="1.04" stroke-linecap="butt"/>
<text x="1220.4" y="724.2" font-size="16.67" font-family="'DejaVu Sans', 'Liberation Sans', sans-serif" text-anchor="end" transform="matrix(1 0 0 1.07 0 -50.69)">65</text>
<line x1="1229" y1="662.5" x2="1237.33" y2="662.5" stroke="#000" stroke-width="1.04" stroke-linecap="butt"/>
<line x1="1683" y1="662.5" x2="1674.67" y2="662.5" stroke="#000" stroke-width="1.04" stroke-linecap="butt"/>
<text x="1220.4" y="667.2" font-size="16.67" font-family="'DejaVu Sans', 'Liberation Sans', sans-serif" text-anchor="end" transform="matrix(1 0 0 1.07 0 -46.7)">70</text>
<rect x="1229" y="662" width="454" height="454" fill="none" stroke="#000" stroke-width="2"/>
<text x="1456" y="649.7" font-size="23.35" font-family="'DejaVu Sans', 'Liberation Sans', sans-serif" text-anchor="middle"><tspan font-family="'DejaVu Sans', 'Liberation Sans', sans-serif">Hodogram (V3_V1 MVAV</tspan><tspan font-family="'Liberation Serif', 'DejaVu Serif', serif" font-style="italic" font-size="16.34" textLength="75" lengthAdjust="spacing" dx="0.8" dy="2.8">remaining</tspan><tspan font-family="'DejaVu Sans', 'Liberation Sans', sans-serif" dy="-2.8"> frame)</tspan></text>
<text x="1456" y="1169.4" font-size="16.67" font-family="'DejaVu Sans', 'Liberation Sans', sans-serif" text-anchor="middle" transform="matrix(1 0 0 1.07 0 -81.86)">V3(km/s)</text>
<text x="1183.7" y="891" font-size="16.67" font-family="'DejaVu Sans', 'Liberation Sans', sans-serif" text-anchor="middle" transform="rotate(-90 1183.7 891) matrix(1 0 0 1.07 0 -62.37)">V1(km/s)</text>
<text x="1262.1" y="1093.4" font-size="21" font-family="'Liberation Serif', 'DejaVu Serif', serif" font-style="italic">λ</text>
<text x="1270.8" y="1096.7" font-size="13" font-family="'Liberation Serif', 'DejaVu Serif', serif">1</text>
<text x="1279.4" y="1096.8" font-size="24.5" font-family="'Liberation Serif', 'DejaVu Serif', serif">/</text>
<text x="1290.2" y="1093.4" font-size="21" font-family="'Liberation Serif', 'DejaVu Serif', serif" font-style="italic">λ</text>
<text x="1298.8" y="1096.7" font-size="13" font-family="'Liberation Serif', 'DejaVu Serif', serif">3</text>
<text x="1309.1" y="1095.6" font-size="21" font-family="'DejaVu Sans', 'Liberation Sans', sans-serif">≈</text>
<text x="1332.3" y="1093.4" font-size="18.5" font-family="'DejaVu Sans', 'Liberation Sans', sans-serif">7.46</text>
<clipPath id="c7"><rect x="117" y="1305" width="1566" height="222"/></clipPath>
<g clip-path="url(#c7)">
<polyline points="117,1503.7 237.46,1471.8 357.92,1458.3 478.38,1459.9 598.85,1454.9 719.31,1452.2 839.77,1445.7 960.23,1444.5 1080.69,1443.8 1201.15,1439 1321.62,1443.1 1442.08,1450.8 1562.54,1449 1683,1460.8" fill="none" stroke="#ff0000" stroke-width="2.08" stroke-linejoin="round" stroke-linecap="butt"/>
<polyline points="117,1336.5 237.46,1333.8 357.92,1331.1 478.38,1330.4 598.85,1331.5 719.31,1330.7 839.77,1332.3 960.23,1332.7 1080.69,1333.8 1201.15,1332.8 1321.62,1331.5 1442.08,1329.2 1562.54,1331 1683,1330.1" fill="none" stroke="#008000" stroke-width="2.08" stroke-linejoin="round" stroke-linecap="butt"/>
<polyline points="117,1504.8 237.46,1512.9 357.92,1506.4 478.38,1501.4 598.85,1507.1 719.31,1497.9 839.77,1496.4 960.23,1499.8 1080.69,1504.9 1201.15,1497.3 1321.62,1487.7 1442.08,1482.7 1562.54,1484.5 1683,1494.1" fill="none" stroke="#0000ff" stroke-width="2.08" stroke-linejoin="round" stroke-linecap="butt"/>
<polyline points="117,1472.5 1683,1472.5" fill="none" stroke="#000" stroke-width="1.04" stroke-linejoin="round" stroke-linecap="butt" stroke-dasharray="12.5,12.5"/>
</g>
<line x1="358.5" y1="1527" x2="358.5" y2="1518.67" stroke="#000" stroke-width="1.04" stroke-linecap="butt"/>
<line x1="358.5" y1="1305" x2="358.5" y2="1313.33" stroke="#000" stroke-width="1.04" stroke-linecap="butt"/>
<text x="358.5" y="1549.4" font-size="16.67" font-family="'DejaVu Sans', 'Liberation Sans', sans-serif" text-anchor="middle" transform="matrix(1 0 0 1.07 0 -108.46)">01/06 06:03:37</text>
<line x1="960.5" y1="1527" x2="960.5" y2="1518.67" stroke="#000" stroke-width="1.04" stroke-linecap="butt"/>
<line x1="960.5" y1="1305" x2="960.5" y2="1313.33" stroke="#000" stroke-width="1.04" stroke-linecap="butt"/>
<text x="960.5" y="1549.4" font-size="16.67" font-family="'DejaVu Sans', 'Liberation Sans', sans-serif" text-anchor="middle" transform="matrix(1 0 0 1.07 0 -108.46)">01/06 06:03:42</text>
<line x1="1563.5" y1="1527" x2="1563.5" y2="1518.67" stroke="#000" stroke-width="1.04" stroke-linecap="butt"/>
<line x1="1563.5" y1="1305" x2="1563.5" y2="1313.33" stroke="#000" stroke-width="1.04" stroke-linecap="butt"/>
<text x="1563.5" y="1549.4" font-size="16.67" font-family="'DejaVu Sans', 'Liberation Sans', sans-serif" text-anchor="middle" transform="matrix(1 0 0 1.07 0 -108.46)">01/06 06:03:47</text>
<line x1="117" y1="1527.5" x2="125.33" y2="1527.5" stroke="#000" stroke-width="1.04" stroke-linecap="butt"/>
<line x1="1683" y1="1527.5" x2="1674.67" y2="1527.5" stroke="#000" stroke-width="1.04" stroke-linecap="butt"/>
<text x="108.4" y="1532.2" font-size="16.67" font-family="'DejaVu Sans', 'Liberation Sans', sans-serif" text-anchor="end" transform="matrix(1 0 0 1.07 0 -107.25)">−10</text>
<line x1="117" y1="1500.5" x2="125.33" y2="1500.5" stroke="#000" stroke-width="1.04" stroke-linecap="butt"/>
<line x1="1683" y1="1500.5" x2="1674.67" y2="1500.5" stroke="#000" stroke-width="1.04" stroke-linecap="butt"/>
<text x="108.4" y="1505.2" font-size="16.67" font-family="'DejaVu Sans', 'Liberation Sans', sans-serif" text-anchor="end" transform="matrix(1 0 0 1.07 0 -105.36)">−5</text>
<line x1="117" y1="1472.5" x2="125.33" y2="1472.5" stroke="#000" stroke-width="1.04" stroke-linecap="butt"/>
<line x1="1683" y1="1472.5" x2="1674.67" y2="1472.5" stroke="#000" stroke-width="1.04" stroke-linecap="butt"/>
<text x="108.4" y="1477.2" font-size="16.67" font-family="'DejaVu Sans', 'Liberation Sans', sans-serif" text-anchor="end" transform="matrix(1 0 0 1.07 0 -103.4)">0</text>
<line x1="117" y1="1444.5" x2="125.33" y2="1444.5" stroke="#000" stroke-width="1.04" stroke-linecap="butt"/>
<line x1="1683" y1="1444.5" x2="1674.67" y2="1444.5" stroke="#000" stroke-width="1.04" stroke-linecap="butt"/>
<text x="108.4" y="1449.2" font-size="16.67" font-family="'DejaVu Sans', 'Liberation Sans', sans-serif" text-anchor="end" transform="matrix(1 0 0 1.07 0 -101.44)">5</text>
<line x1="117" y1="1416.5" x2="125.33" y2="1416.5" stroke="#000" stroke-width="1.04" stroke-linecap="butt"/>
<line x1="1683" y1="1416.5" x2="1674.67" y2="1416.5" stroke="#000" stroke-width="1.04" stroke-linecap="butt"/>
<text x="108.4" y="1421.2" font-size="16.67" font-family="'DejaVu Sans', 'Liberation Sans', sans-serif" text-anchor="end" transform="matrix(1 0 0 1.07 0 -99.48)">10</text>
<line x1="117" y1="1389.5" x2="125.33" y2="1389.5" stroke="#000" stroke-width="1.04" stroke-linecap="butt"/>
<line x1="1683" y1="1389.5" x2="1674.67" y2="1389.5" stroke="#000" stroke-width="1.04" stroke-linecap="butt"/>
<text x="108.4" y="1394.2" font-size="16.67" font-family="'DejaVu Sans', 'Liberation Sans', sans-serif" text-anchor="end" transform="matrix(1 0 0 1.07 0 -97.59)">15</text>
<line x1="117" y1="1361.5" x2="125.33" y2="1361.5" stroke="#000" stroke-width="1.04" stroke-linecap="butt"/>
<line x1="1683" y1="1361.5" x2="1674.67" y2="1361.5" stroke="#000" stroke-width="1.04" stroke-linecap="butt"/>
<text x="108.4" y="1366.2" font-size="16.67" font-family="'DejaVu Sans', 'Liberation Sans', sans-serif" text-anchor="end" transform="matrix(1 0 0 1.07 0 -95.63)">20</text>
<line x1="117" y1="1333.5" x2="125.33" y2="1333.5" stroke="#000" stroke-width="1.04" stroke-linecap="butt"/>
<line x1="1683" y1="1333.5" x2="1674.67" y2="1333.5" stroke="#000" stroke-width="1.04" stroke-linecap="butt"/>
<text x="108.4" y="1338.2" font-size="16.67" font-family="'DejaVu Sans', 'Liberation Sans', sans-serif" text-anchor="end" transform="matrix(1 0 0 1.07 0 -93.67)">25</text>
<line x1="117" y1="1305.5" x2="125.33" y2="1305.5" stroke="#000" stroke-width="1.04" stroke-linecap="butt"/>
<line x1="1683" y1="1305.5" x2="1674.67" y2="1305.5" stroke="#000" stroke-width="1.04" stroke-linecap="butt"/>
<text x="108.4" y="1310.2" font-size="16.67" font-family="'DejaVu Sans', 'Liberation Sans', sans-serif" text-anchor="end" transform="matrix(1 0 0 1.07 0 -91.71)">30</text>
<rect x="117" y="1305" width="1566" height="222" fill="none" stroke="#000" stroke-width="2"/>
<text x="900" y="1295" font-size="23.35" font-family="'DejaVu Sans', 'Liberation Sans', sans-serif" text-anchor="middle">Magnetic Field (RTN Frame)</text>
<text x="60" y="1419.3" font-size="16.67" font-family="'DejaVu Sans', 'Liberation Sans', sans-serif" text-anchor="middle" transform="rotate(-90 60 1419.3) matrix(1 0 0 1.07 0 -99.35)">B(nT)</text>
<rect x="1604" y="1312" width="71.9" height="71.7" fill="#fff" stroke="#000" stroke-width="2.08"/>
<line x1="1612.9" y1="1325" x2="1636" y2="1325" stroke="#ff0000" stroke-width="2.08" stroke-linecap="butt"/>
<text x="1651.4" y="1329.8" font-size="14" font-family="'DejaVu Sans', 'Liberation Sans', sans-serif" transform="matrix(0.97 0 0 1.17 49.54 -226.07)">Br</text>
<line x1="1612.9" y1="1347.5" x2="1636" y2="1347.5" stroke="#008000" stroke-width="2.08" stroke-linecap="butt"/>
<text x="1651.4" y="1352.3" font-size="14" font-family="'DejaVu Sans', 'Liberation Sans', sans-serif" transform="matrix(0.97 0 0 1.17 49.54 -229.89)">Bt</text>
<line x1="1612.9" y1="1370" x2="1636" y2="1370" stroke="#0000ff" stroke-width="2.08" stroke-linecap="butt"/>
<text x="1651.4" y="1374.8" font-size="14" font-family="'DejaVu Sans', 'Liberation Sans', sans-serif" transform="matrix(0.97 0 0 1.17 49.54 -233.72)">Bn</text>
<clipPath id="c8"><rect x="117" y="1639" width="1566" height="222"/></clipPath>
<g clip-path="url(#c8)">
<polyline points="117,1719.3 237.46,1748.2 357.92,1760.6 478.38,1758.9 598.85,1764.4 719.31,1766.8 839.77,1774.9 960.23,1776 1080.69,1776.8 1201.15,1781.3 1321.62,1778.1 1442.08,1768.5 1562.54,1771.3 1683,1758.5" fill="none" stroke="#ff0000" stroke-width="2.08" stroke-linejoin="round" stroke-linecap="butt"/>
<polyline points="117,1839 237.46,1846.4 357.92,1837.4 478.38,1832.8 598.85,1838.5 719.31,1828.3 839.77,1826.8 960.23,1831 1080.69,1836.6 1201.15,1828.2 1321.62,1817.3 1442.08,1810.9 1562.54,1813.2 1683,1823.6" fill="none" stroke="#008000" stroke-width="2.08" stroke-linejoin="round" stroke-linecap="butt"/>
<polyline points="117,1708.6 237.46,1687.1 357.92,1678 478.38,1679.3 598.85,1676.3 719.31,1675.7 839.77,1673.4 960.23,1672.3 1080.69,1672.5 1201.15,1670.6 1321.62,1673.3 1442.08,1676 1562.54,1676.5 1683,1679.7" fill="none" stroke="#0000ff" stroke-width="2.08" stroke-linejoin="round" stroke-linecap="butt"/>
<polyline points="117,1665.6 237.46,1664.8 357.92,1663.2 478.38,1663.6 598.85,1663.2 719.31,1663.4 839.77,1664.6 960.23,1664.2 1080.69,1664 1201.15,1663.7 1321.62,1664.6 1442.08,1663.7 1562.54,1665.1 1683,1664" fill="none" stroke="#000" stroke-width="2.08" stroke-linejoin="round" stroke-linecap="butt"/>
<polyline points="117,1830.5 1683,1830.5" fill="none" stroke="#000" stroke-width="1.04" stroke-linejoin="round" stroke-linecap="butt" stroke-dasharray="12.5,12.5"/>
</g>
<line x1="358.5" y1="1861" x2="358.5" y2="1852.67" stroke="#000" stroke-width="1.04" stroke-linecap="butt"/>
<line x1="358.5" y1="1639" x2="358.5" y2="1647.33" stroke="#000" stroke-width="1.04" stroke-linecap="butt"/>
<text x="358.5" y="1883.4" font-size="16.67" font-family="'DejaVu Sans', 'Liberation Sans', sans-serif" text-anchor="middle" transform="matrix(1 0 0 1.07 0 -131.84)">01/06 06:03:37</text>
<line x1="960.5" y1="1861" x2="960.5" y2="1852.67" stroke="#000" stroke-width="1.04" stroke-linecap="butt"/>
<line x1="960.5" y1="1639" x2="960.5" y2="1647.33" stroke="#000" stroke-width="1.04" stroke-linecap="butt"/>
<text x="960.5" y="1883.4" font-size="16.67" font-family="'DejaVu Sans', 'Liberation Sans', sans-serif" text-anchor="middle" transform="matrix(1 0 0 1.07 0 -131.84)">01/06 06:03:42</text>
<line x1="1563.5" y1="1861" x2="1563.5" y2="1852.67" stroke="#000" stroke-width="1.04" stroke-linecap="butt"/>
<line x1="1563.5" y1="1639" x2="1563.5" y2="1647.33" stroke="#000" stroke-width="1.04" stroke-linecap="butt"/>
<text x="1563.5" y="1883.4" font-size="16.67" font-family="'DejaVu Sans', 'Liberation Sans', sans-serif" text-anchor="middle" transform="matrix(1 0 0 1.07 0 -131.84)">01/06 06:03:47</text>
<line x1="117" y1="1861.5" x2="125.33" y2="1861.5" stroke="#000" stroke-width="1.04" stroke-linecap="butt"/>
<line x1="1683" y1="1861.5" x2="1674.67" y2="1861.5" stroke="#000" stroke-width="1.04" stroke-linecap="butt"/>
<text x="108.4" y="1866.2" font-size="16.67" font-family="'DejaVu Sans', 'Liberation Sans', sans-serif" text-anchor="end" transform="matrix(1 0 0 1.07 0 -130.63)">−5</text>
<line x1="117" y1="1830.5" x2="125.33" y2="1830.5" stroke="#000" stroke-width="1.04" stroke-linecap="butt"/>
<line x1="1683" y1="1830.5" x2="1674.67" y2="1830.5" stroke="#000" stroke-width="1.04" stroke-linecap="butt"/>
<text x="108.4" y="1835.2" font-size="16.67" font-family="'DejaVu Sans', 'Liberation Sans', sans-serif" text-anchor="end" transform="matrix(1 0 0 1.07 0 -128.46)">0</text>
<line x1="117" y1="1798.5" x2="125.33" y2="1798.5" stroke="#000" stroke-width="1.04" stroke-linecap="butt"/>
<line x1="1683" y1="1798.5" x2="1674.67" y2="1798.5" stroke="#000" stroke-width="1.04" stroke-linecap="butt"/>
<text x="108.4" y="1803.2" font-size="16.67" font-family="'DejaVu Sans', 'Liberation Sans', sans-serif" text-anchor="end" transform="matrix(1 0 0 1.07 0 -126.22)">5</text>
<line x1="117" y1="1766.5" x2="125.33" y2="1766.5" stroke="#000" stroke-width="1.04" stroke-linecap="butt"/>
<line x1="1683" y1="1766.5" x2="1674.67" y2="1766.5" stroke="#000" stroke-width="1.04" stroke-linecap="butt"/>
<text x="108.4" y="1771.2" font-size="16.67" font-family="'DejaVu Sans', 'Liberation Sans', sans-serif" text-anchor="end" transform="matrix(1 0 0 1.07 0 -123.98)">10</text>
<line x1="117" y1="1734.5" x2="125.33" y2="1734.5" stroke="#000" stroke-width="1.04" stroke-linecap="butt"/>
<line x1="1683" y1="1734.5" x2="1674.67" y2="1734.5" stroke="#000" stroke-width="1.04" stroke-linecap="butt"/>
<text x="108.4" y="1739.2" font-size="16.67" font-family="'DejaVu Sans', 'Liberation Sans', sans-serif" text-anchor="end" transform="matrix(1 0 0 1.07 0 -121.74)">15</text>
<line x1="117" y1="1703.5" x2="125.33" y2="1703.5" stroke="#000" stroke-width="1.04" stroke-linecap="butt"/>
<line x1="1683" y1="1703.5" x2="1674.67" y2="1703.5" stroke="#000" stroke-width="1.04" stroke-linecap="butt"/>
<text x="108.4" y="1708.2" font-size="16.67" font-family="'DejaVu Sans', 'Liberation Sans', sans-serif" text-anchor="end" transform="matrix(1 0 0 1.07 0 -119.57)">20</text>
<line x1="117" y1="1671.5" x2="125.33" y2="1671.5" stroke="#000" stroke-width="1.04" stroke-linecap="butt"/>
<line x1="1683" y1="1671.5" x2="1674.67" y2="1671.5" stroke="#000" stroke-width="1.04" stroke-linecap="butt"/>
<text x="108.4" y="1676.2" font-size="16.67" font-family="'DejaVu Sans', 'Liberation Sans', sans-serif" text-anchor="end" transform="matrix(1 0 0 1.07 0 -117.33)">25</text>
<line x1="117" y1="1639.5" x2="125.33" y2="1639.5" stroke="#000" stroke-width="1.04" stroke-linecap="butt"/>
<line x1="1683" y1="1639.5" x2="1674.67" y2="1639.5" stroke="#000" stroke-width="1.04" stroke-linecap="butt"/>
<text x="108.4" y="1644.2" font-size="16.67" font-family="'DejaVu Sans', 'Liberation Sans', sans-serif" text-anchor="end" transform="matrix(1 0 0 1.07 0 -115.09)">30</text>
<rect x="117" y="1639" width="1566" height="222" fill="none" stroke="#000" stroke-width="2"/>
<text x="900" y="1629" font-size="23.35" font-family="'DejaVu Sans', 'Liberation Sans', sans-serif" text-anchor="middle">Magnetic Field (Flux Rope Frame)</text>
<text x="70" y="1752" font-size="16.67" font-family="'DejaVu Sans', 'Liberation Sans', sans-serif" text-anchor="middle" transform="rotate(-90 70 1752) matrix(1 0 0 1.07 0 -122.64)">B(nT)</text>
<rect x="1601.2" y="1646" width="74.8" height="93.6" fill="#fff" stroke="#000" stroke-width="2.08"/>
<line x1="1610.1" y1="1659" x2="1632" y2="1659" stroke="#ff0000" stroke-width="2.08" stroke-linecap="butt"/>
<text x="1648.6" y="1663.8" font-size="14" font-family="'DejaVu Sans', 'Liberation Sans', sans-serif" transform="matrix(0.97 0 0 1.17 49.46 -282.85)">Bx'</text>
<line x1="1610.1" y1="1680.9" x2="1632" y2="1680.9" stroke="#008000" stroke-width="2.08" stroke-linecap="butt"/>
<text x="1648.6" y="1685.7" font-size="14" font-family="'DejaVu Sans', 'Liberation Sans', sans-serif" transform="matrix(0.97 0 0 1.17 49.46 -286.57)">By'</text>
<line x1="1610.1" y1="1702.8" x2="1632" y2="1702.8" stroke="#0000ff" stroke-width="2.08" stroke-linecap="butt"/>
<text x="1648.6" y="1707.6" font-size="14" font-family="'DejaVu Sans', 'Liberation Sans', sans-serif" transform="matrix(0.97 0 0 1.17 49.46 -290.29)">Bz'</text>
<line x1="1610.1" y1="1724.7" x2="1632" y2="1724.7" stroke="#000" stroke-width="2.08" stroke-linecap="butt"/>
<text x="1648.6" y="1729.5" font-size="14" font-family="'DejaVu Sans', 'Liberation Sans', sans-serif" transform="matrix(0.97 0 0 1.17 49.46 -294.01)">|B|</text>
<clipPath id="c9"><rect x="117" y="1972" width="1566" height="222"/></clipPath>
<g clip-path="url(#c9)">
<polyline points="117,2006.8 237.46,2009.7 357.92,2011.3 478.38,2013.4 598.85,2013.2 719.31,2012.7 839.77,2014.2 960.23,2015.7 1080.69,2016.1 1201.15,2013.8 1321.62,2011.5 1442.08,2012.4 1562.54,2013.8 1683,2013" fill="none" stroke="#ff0000" stroke-width="2.08" stroke-linejoin="round" stroke-linecap="butt"/>
<polyline points="117,2162.8 237.46,2168.6 357.92,2164.1 478.38,2159.1 598.85,2159.1 719.31,2158.7 839.77,2161.8 960.23,2164.8 1080.69,2162.9 1201.15,2160.5 1321.62,2157.7 1442.08,2160 1562.54,2161.8 1683,2160.9" fill="none" stroke="#008000" stroke-width="2.08" stroke-linejoin="round" stroke-linecap="butt"/>
<polyline points="117,2114.1 237.46,2111.6 357.92,2113.3 478.38,2114.9 598.85,2113.9 719.31,2113 839.77,2113.7 960.23,2114.1 1080.69,2114.7 1201.15,2115.8 1321.62,2117.2 1442.08,2115.8 1562.54,2114.9 1683,2116.7" fill="none" stroke="#0000ff" stroke-width="2.08" stroke-linejoin="round" stroke-linecap="butt"/>
</g>
<line x1="358.5" y1="2194" x2="358.5" y2="2185.67" stroke="#000" stroke-width="1.04" stroke-linecap="butt"/>
<line x1="358.5" y1="1972" x2="358.5" y2="1980.33" stroke="#000" stroke-width="1.04" stroke-linecap="butt"/>
<text x="358.5" y="2216.4" font-size="16.67" font-family="'DejaVu Sans', 'Liberation Sans', sans-serif" text-anchor="middle" transform="matrix(1 0 0 1.07 0 -155.15)">01/06 06:03:37</text>
<line x1="960.5" y1="2194" x2="960.5" y2="2185.67" stroke="#000" stroke-width="1.04" stroke-linecap="butt"/>
<line x1="960.5" y1="1972" x2="960.5" y2="1980.33" stroke="#000" stroke-width="1.04" stroke-linecap="butt"/>
<text x="960.5" y="2216.4" font-size="16.67" font-family="'DejaVu Sans', 'Liberation Sans', sans-serif" text-anchor="middle" transform="matrix(1 0 0 1.07 0 -155.15)">01/06 06:03:42</text>
<line x1="1563.5" y1="2194" x2="1563.5" y2="2185.67" stroke="#000" stroke-width="1.04" stroke-linecap="butt"/>
<line x1="1563.5" y1="1972" x2="1563.5" y2="1980.33" stroke="#000" stroke-width="1.04" stroke-linecap="butt"/>
<text x="1563.5" y="2216.4" font-size="16.67" font-family="'DejaVu Sans', 'Liberation Sans', sans-serif" text-anchor="middle" transform="matrix(1 0 0 1.07 0 -155.15)">01/06 06:03:47</text>
<line x1="117" y1="2194.5" x2="125.33" y2="2194.5" stroke="#000" stroke-width="1.04" stroke-linecap="butt"/>
<line x1="1683" y1="2194.5" x2="1674.67" y2="2194.5" stroke="#000" stroke-width="1.04" stroke-linecap="butt"/>
<text x="108.4" y="2199.2" font-size="16.67" font-family="'DejaVu Sans', 'Liberation Sans', sans-serif" text-anchor="end" transform="matrix(1 0 0 1.07 0 -153.94)">−200</text>
<line x1="117" y1="2157.5" x2="125.33" y2="2157.5" stroke="#000" stroke-width="1.04" stroke-linecap="butt"/>
<line x1="1683" y1="2157.5" x2="1674.67" y2="2157.5" stroke="#000" stroke-width="1.04" stroke-linecap="butt"/>
<text x="108.4" y="2162.2" font-size="16.67" font-family="'DejaVu Sans', 'Liberation Sans', sans-serif" text-anchor="end" transform="matrix(1 0 0 1.07 0 -151.35)">−100</text>
<line x1="117" y1="2120.5" x2="125.33" y2="2120.5" stroke="#000" stroke-width="1.04" stroke-linecap="butt"/>
<line x1="1683" y1="2120.5" x2="1674.67" y2="2120.5" stroke="#000" stroke-width="1.04" stroke-linecap="butt"/>
<text x="108.4" y="2125.2" font-size="16.67" font-family="'DejaVu Sans', 'Liberation Sans', sans-serif" text-anchor="end" transform="matrix(1 0 0 1.07 0 -148.76)">0</text>
<line x1="117" y1="2083.5" x2="125.33" y2="2083.5" stroke="#000" stroke-width="1.04" stroke-linecap="butt"/>
<line x1="1683" y1="2083.5" x2="1674.67" y2="2083.5" stroke="#000" stroke-width="1.04" stroke-linecap="butt"/>
<text x="108.4" y="2088.2" font-size="16.67" font-family="'DejaVu Sans', 'Liberation Sans', sans-serif" text-anchor="end" transform="matrix(1 0 0 1.07 0 -146.17)">100</text>
<line x1="117" y1="2046.5" x2="125.33" y2="2046.5" stroke="#000" stroke-width="1.04" stroke-linecap="butt"/>
<line x1="1683" y1="2046.5" x2="1674.67" y2="2046.5" stroke="#000" stroke-width="1.04" stroke-linecap="butt"/>
<text x="108.4" y="2051.2" font-size="16.67" font-family="'DejaVu Sans', 'Liberation Sans', sans-serif" text-anchor="end" transform="matrix(1 0 0 1.07 0 -143.58)">200</text>
<line x1="117" y1="2009.5" x2="125.33" y2="2009.5" stroke="#000" stroke-width="1.04" stroke-linecap="butt"/>
<line x1="1683" y1="2009.5" x2="1674.67" y2="2009.5" stroke="#000" stroke-width="1.04" stroke-linecap="butt"/>
<text x="108.4" y="2014.2" font-size="16.67" font-family="'DejaVu Sans', 'Liberation Sans', sans-serif" text-anchor="end" transform="matrix(1 0 0 1.07 0 -140.99)">300</text>
<line x1="117" y1="1972.5" x2="125.33" y2="1972.5" stroke="#000" stroke-width="1.04" stroke-linecap="butt"/>
<line x1="1683" y1="1972.5" x2="1674.67" y2="1972.5" stroke="#000" stroke-width="1.04" stroke-linecap="butt"/>
<text x="108.4" y="1977.2" font-size="16.67" font-family="'DejaVu Sans', 'Liberation Sans', sans-serif" text-anchor="end" transform="matrix(1 0 0 1.07 0 -138.4)">400</text>
<rect x="117" y="1972" width="1566" height="222" fill="none" stroke="#000" stroke-width="2"/>
<text x="900" y="1962" font-size="23.35" font-family="'DejaVu Sans', 'Liberation Sans', sans-serif" text-anchor="middle">Solar Wind Velocity (RTN Frame)</text>
<text x="48.4" y="2084.3" font-size="16.67" font-family="'DejaVu Sans', 'Liberation Sans', sans-serif" text-anchor="middle" transform="rotate(-90 48.4 2084.3) matrix(1 0 0 1.07 0 -145.9)">Vsw(km/s)</text>
<rect x="1604" y="1979" width="71.9" height="71.7" fill="#fff" stroke="#000" stroke-width="2.08"/>
<line x1="1612.9" y1="1992" x2="1636" y2="1992" stroke="#ff0000" stroke-width="2.08" stroke-linecap="butt"/>
<text x="1651.4" y="1996.8" font-size="14" font-family="'DejaVu Sans', 'Liberation Sans', sans-serif" transform="matrix(0.97 0 0 1.17 49.54 -339.46)">Vr</text>
<line x1="1612.9" y1="2014.5" x2="1636" y2="2014.5" stroke="#008000" stroke-width="2.08" stroke-linecap="butt"/>
<text x="1651.4" y="2019.3" font-size="14" font-family="'DejaVu Sans', 'Liberation Sans', sans-serif" transform="matrix(0.97 0 0 1.17 49.54 -343.28)">Vt</text>
<line x1="1612.9" y1="2037" x2="1636" y2="2037" stroke="#0000ff" stroke-width="2.08" stroke-linecap="butt"/>
<text x="1651.4" y="2041.8" font-size="14" font-family="'DejaVu Sans', 'Liberation Sans', sans-serif" transform="matrix(0.97 0 0 1.17 49.54 -347.11)">Vn</text>
<clipPath id="c10"><rect x="117" y="2306" width="1566" height="222"/></clipPath>
<g clip-path="url(#c10)">
<polyline points="117,2479.1 237.46,2322.8 357.92,2373.6 478.38,2414.2 598.85,2472.4 719.31,2521 839.77,2457.6 960.23,2390.7 1080.69,2407.8 1201.15,2459.5 1321.62,2501.8 1442.08,2458.6 1562.54,2401.6 1683,2423.5" fill="none" stroke="#0000ff" stroke-width="2.08" stroke-linejoin="round" stroke-linecap="butt"/>
</g>
<line x1="358.5" y1="2528" x2="358.5" y2="2519.67" stroke="#000" stroke-width="1.04" stroke-linecap="butt"/>
<line x1="358.5" y1="2306" x2="358.5" y2="2314.33" stroke="#000" stroke-width="1.04" stroke-linecap="butt"/>
<text x="358.5" y="2550.4" font-size="16.67" font-family="'DejaVu Sans', 'Liberation Sans', sans-serif" text-anchor="middle" transform="matrix(1 0 0 1.07 0 -178.53)">01/06 06:03:37</text>
<line x1="960.5" y1="2528" x2="960.5" y2="2519.67" stroke="#000" stroke-width="1.04" stroke-linecap="butt"/>
<line x1="960.5" y1="2306" x2="960.5" y2="2314.33" stroke="#000" stroke-width="1.04" stroke-linecap="butt"/>
<text x="960.5" y="2550.4" font-size="16.67" font-family="'DejaVu Sans', 'Liberation Sans', sans-serif" text-anchor="middle" transform="matrix(1 0 0 1.07 0 -178.53)">01/06 06:03:42</text>
<line x1="1563.5" y1="2528" x2="1563.5" y2="2519.67" stroke="#000" stroke-width="1.04" stroke-linecap="butt"/>
<line x1="1563.5" y1="2306" x2="1563.5" y2="2314.33" stroke="#000" stroke-width="1.04" stroke-linecap="butt"/>
<text x="1563.5" y="2550.4" font-size="16.67" font-family="'DejaVu Sans', 'Liberation Sans', sans-serif" text-anchor="middle" transform="matrix(1 0 0 1.07 0 -178.53)">01/06 06:03:47</text>
<line x1="117" y1="2528.5" x2="125.33" y2="2528.5" stroke="#000" stroke-width="1.04" stroke-linecap="butt"/>
<line x1="1683" y1="2528.5" x2="1674.67" y2="2528.5" stroke="#000" stroke-width="1.04" stroke-linecap="butt"/>
<text x="108.4" y="2533.2" font-size="16.67" font-family="'DejaVu Sans', 'Liberation Sans', sans-serif" text-anchor="end" transform="matrix(1 0 0 1.07 0 -177.32)">0.16</text>
<line x1="117" y1="2504.5" x2="125.33" y2="2504.5" stroke="#000" stroke-width="1.04" stroke-linecap="butt"/>
<line x1="1683" y1="2504.5" x2="1674.67" y2="2504.5" stroke="#000" stroke-width="1.04" stroke-linecap="butt"/>
<text x="108.4" y="2509.2" font-size="16.67" font-family="'DejaVu Sans', 'Liberation Sans', sans-serif" text-anchor="end" transform="matrix(1 0 0 1.07 0 -175.64)">0.18</text>
<line x1="117" y1="2479.5" x2="125.33" y2="2479.5" stroke="#000" stroke-width="1.04" stroke-linecap="butt"/>
<line x1="1683" y1="2479.5" x2="1674.67" y2="2479.5" stroke="#000" stroke-width="1.04" stroke-linecap="butt"/>
<text x="108.4" y="2484.2" font-size="16.67" font-family="'DejaVu Sans', 'Liberation Sans', sans-serif" text-anchor="end" transform="matrix(1 0 0 1.07 0 -173.89)">0.20</text>
<line x1="117" y1="2454.5" x2="125.33" y2="2454.5" stroke="#000" stroke-width="1.04" stroke-linecap="butt"/>
<line x1="1683" y1="2454.5" x2="1674.67" y2="2454.5" stroke="#000" stroke-width="1.04" stroke-linecap="butt"/>
<text x="108.4" y="2459.2" font-size="16.67" font-family="'DejaVu Sans', 'Liberation Sans', sans-serif" text-anchor="end" transform="matrix(1 0 0 1.07 0 -172.14)">0.22</text>
<line x1="117" y1="2430.5" x2="125.33" y2="2430.5" stroke="#000" stroke-width="1.04" stroke-linecap="butt"/>
<line x1="1683" y1="2430.5" x2="1674.67" y2="2430.5" stroke="#000" stroke-width="1.04" stroke-linecap="butt"/>
<text x="108.4" y="2435.2" font-size="16.67" font-family="'DejaVu Sans', 'Liberation Sans', sans-serif" text-anchor="end" transform="matrix(1 0 0 1.07 0 -170.46)">0.24</text>
<line x1="117" y1="2405.5" x2="125.33" y2="2405.5" stroke="#000" stroke-width="1.04" stroke-linecap="butt"/>
<line x1="1683" y1="2405.5" x2="1674.67" y2="2405.5" stroke="#000" stroke-width="1.04" stroke-linecap="butt"/>
<text x="108.4" y="2410.2" font-size="16.67" font-family="'DejaVu Sans', 'Liberation Sans', sans-serif" text-anchor="end" transform="matrix(1 0 0 1.07 0 -168.71)">0.26</text>
<line x1="117" y1="2380.5" x2="125.33" y2="2380.5" stroke="#000" stroke-width="1.04" stroke-linecap="butt"/>
<line x1="1683" y1="2380.5" x2="1674.67" y2="2380.5" stroke="#000" stroke-width="1.04" stroke-linecap="butt"/>
<text x="108.4" y="2385.2" font-size="16.67" font-family="'DejaVu Sans', 'Liberation Sans', sans-serif" text-anchor="end" transform="matrix(1 0 0 1.07 0 -166.96)">0.28</text>
<line x1="117" y1="2356.5" x2="125.33" y2="2356.5" stroke="#000" stroke-width="1.04" stroke-linecap="butt"/>
<line x1="1683" y1="2356.5" x2="1674.67" y2="2356.5" stroke="#000" stroke-width="1.04" stroke-linecap="butt"/>
<text x="108.4" y="2361.2" font-size="16.67" font-family="'DejaVu Sans', 'Liberation Sans', sans-serif" text-anchor="end" transform="matrix(1 0 0 1.07 0 -165.28)">0.30</text>
<line x1="117" y1="2331.5" x2="125.33" y2="2331.5" stroke="#000" stroke-width="1.04" stroke-linecap="butt"/>
<line x1="1683" y1="2331.5" x2="1674.67" y2="2331.5" stroke="#000" stroke-width="1.04" stroke-linecap="butt"/>
<text x="108.4" y="2336.2" font-size="16.67" font-family="'DejaVu Sans', 'Liberation Sans', sans-serif" text-anchor="end" transform="matrix(1 0 0 1.07 0 -163.53)">0.32</text>
<line x1="117" y1="2306.5" x2="125.33" y2="2306.5" stroke="#000" stroke-width="1.04" stroke-linecap="butt"/>
<line x1="1683" y1="2306.5" x2="1674.67" y2="2306.5" stroke="#000" stroke-width="1.04" stroke-linecap="butt"/>
<text x="108.4" y="2311.2" font-size="16.67" font-family="'DejaVu Sans', 'Liberation Sans', sans-serif" text-anchor="end" transform="matrix(1 0 0 1.07 0 -161.78)">0.34</text>
<rect x="117" y="2306" width="1566" height="222" fill="none" stroke="#000" stroke-width="2"/>
<text x="900" y="2296" font-size="23.35" font-family="'DejaVu Sans', 'Liberation Sans', sans-serif" text-anchor="middle">Plasma Beta</text>
<text x="53" y="2419" font-size="16.67" font-family="'DejaVu Sans', 'Liberation Sans', sans-serif" text-anchor="middle" transform="rotate(-90 53 2419)"><tspan font-family="'Liberation Serif', 'DejaVu Serif', serif" font-style="italic">β</tspan><tspan font-family="'Liberation Serif', 'DejaVu Serif', serif" font-style="italic" font-size="11.67" dy="3">p</tspan></text>
<clipPath id="c11"><rect x="117" y="2639" width="1566" height="222"/></clipPath>
<g clip-path="url(#c11)">
<polyline points="117,2844.1 237.46,2677.5 357.92,2723.4 478.38,2769.4 598.85,2794.6 719.31,2819.8 839.77,2770.3 960.23,2720.7 1080.69,2715.5 1201.15,2765.3 1321.62,2815 1442.08,2775.3 1562.54,2735.7 1683,2764.9" fill="none" stroke="#0000ff" stroke-width="2.08" stroke-linejoin="round" stroke-linecap="butt"/>
</g>
<line x1="358.5" y1="2861" x2="358.5" y2="2852.67" stroke="#000" stroke-width="1.04" stroke-linecap="butt"/>
<line x1="358.5" y1="2639" x2="358.5" y2="2647.33" stroke="#000" stroke-width="1.04" stroke-linecap="butt"/>
<text x="358.5" y="2883.4" font-size="16.67" font-family="'DejaVu Sans', 'Liberation Sans', sans-serif" text-anchor="middle" transform="matrix(1 0 0 1.07 0 -201.84)">01/06 06:03:37</text>
<line x1="960.5" y1="2861" x2="960.5" y2="2852.67" stroke="#000" stroke-width="1.04" stroke-linecap="butt"/>
<line x1="960.5" y1="2639" x2="960.5" y2="2647.33" stroke="#000" stroke-width="1.04" stroke-linecap="butt"/>
<text x="960.5" y="2883.4" font-size="16.67" font-family="'DejaVu Sans', 'Liberation Sans', sans-serif" text-anchor="middle" transform="matrix(1 0 0 1.07 0 -201.84)">01/06 06:03:42</text>
<line x1="1563.5" y1="2861" x2="1563.5" y2="2852.67" stroke="#000" stroke-width="1.04" stroke-linecap="butt"/>
<line x1="1563.5" y1="2639" x2="1563.5" y2="2647.33" stroke="#000" stroke-width="1.04" stroke-linecap="butt"/>
<text x="1563.5" y="2883.4" font-size="16.67" font-family="'DejaVu Sans', 'Liberation Sans', sans-serif" text-anchor="middle" transform="matrix(1 0 0 1.07 0 -201.84)">01/06 06:03:47</text>
<line x1="117" y1="2861.5" x2="125.33" y2="2861.5" stroke="#000" stroke-width="1.04" stroke-linecap="butt"/>
<line x1="1683" y1="2861.5" x2="1674.67" y2="2861.5" stroke="#000" stroke-width="1.04" stroke-linecap="butt"/>
<text x="108.4" y="2866.2" font-size="16.67" font-family="'DejaVu Sans', 'Liberation Sans', sans-serif" text-anchor="end" transform="matrix(1 0 0 1.07 0 -200.63)">40</text>
<line x1="117" y1="2817.5" x2="125.33" y2="2817.5" stroke="#000" stroke-width="1.04" stroke-linecap="butt"/>
<line x1="1683" y1="2817.5" x2="1674.67" y2="2817.5" stroke="#000" stroke-width="1.04" stroke-linecap="butt"/>
<text x="108.4" y="2822.2" font-size="16.67" font-family="'DejaVu Sans', 'Liberation Sans', sans-serif" text-anchor="end" transform="matrix(1 0 0 1.07 0 -197.55)">45</text>
<line x1="117" y1="2772.5" x2="125.33" y2="2772.5" stroke="#000" stroke-width="1.04" stroke-linecap="butt"/>
<line x1="1683" y1="2772.5" x2="1674.67" y2="2772.5" stroke="#000" stroke-width="1.04" stroke-linecap="butt"/>
<text x="108.4" y="2777.2" font-size="16.67" font-family="'DejaVu Sans', 'Liberation Sans', sans-serif" text-anchor="end" transform="matrix(1 0 0 1.07 0 -194.4)">50</text>
<line x1="117" y1="2728.5" x2="125.33" y2="2728.5" stroke="#000" stroke-width="1.04" stroke-linecap="butt"/>
<line x1="1683" y1="2728.5" x2="1674.67" y2="2728.5" stroke="#000" stroke-width="1.04" stroke-linecap="butt"/>
<text x="108.4" y="2733.2" font-size="16.67" font-family="'DejaVu Sans', 'Liberation Sans', sans-serif" text-anchor="end" transform="matrix(1 0 0 1.07 0 -191.32)">55</text>
<line x1="117" y1="2684.5" x2="125.33" y2="2684.5" stroke="#000" stroke-width="1.04" stroke-linecap="butt"/>
<line x1="1683" y1="2684.5" x2="1674.67" y2="2684.5" stroke="#000" stroke-width="1.04" stroke-linecap="butt"/>
<text x="108.4" y="2689.2" font-size="16.67" font-family="'DejaVu Sans', 'Liberation Sans', sans-serif" text-anchor="end" transform="matrix(1 0 0 1.07 0 -188.24)">60</text>
<line x1="117" y1="2639.5" x2="125.33" y2="2639.5" stroke="#000" stroke-width="1.04" stroke-linecap="butt"/>
<line x1="1683" y1="2639.5" x2="1674.67" y2="2639.5" stroke="#000" stroke-width="1.04" stroke-linecap="butt"/>
<text x="108.4" y="2644.2" font-size="16.67" font-family="'DejaVu Sans', 'Liberation Sans', sans-serif" text-anchor="end" transform="matrix(1 0 0 1.07 0 -185.09)">65</text>
<rect x="117" y="2639" width="1566" height="222" fill="none" stroke="#000" stroke-width="2"/>
<text x="900" y="2629" font-size="23.35" font-family="'DejaVu Sans', 'Liberation Sans', sans-serif" text-anchor="middle">Proton Number Density</text>
<text x="73.6" y="2752.7" font-size="16.67" font-family="'DejaVu Sans', 'Liberation Sans', sans-serif" text-anchor="middle" transform="rotate(-90 73.6 2752.7) matrix(1 0 0 1.07 0 -192.69)">Np(#/cc)</text>
<clipPath id="c12"><rect x="117" y="2973" width="1566" height="222"/></clipPath>
<g clip-path="url(#c12)">
<polyline points="117,3065.6 237.46,2984 357.92,3001.2 478.38,3018.9 598.85,3100.1 719.31,3181.4 839.77,3111 960.23,3040.7 1080.69,3076.9 1201.15,3114.1 1321.62,3151.4 1442.08,3102.4 1562.54,3053.4 1683,3046.6" fill="none" stroke="#0000ff" stroke-width="2.08" stroke-linejoin="round" stroke-linecap="butt"/>
</g>
<line x1="358.5" y1="3195" x2="358.5" y2="3186.67" stroke="#000" stroke-width="1.04" stroke-linecap="butt"/>
<line x1="358.5" y1="2973" x2="358.5" y2="2981.33" stroke="#000" stroke-width="1.04" stroke-linecap="butt"/>
<text x="358.5" y="3217.4" font-size="16.67" font-family="'DejaVu Sans', 'Liberation Sans', sans-serif" text-anchor="middle" transform="matrix(1 0 0 1.07 0 -225.22)">01/06 06:03:37</text>
<line x1="960.5" y1="3195" x2="960.5" y2="3186.67" stroke="#000" stroke-width="1.04" stroke-linecap="butt"/>
<line x1="960.5" y1="2973" x2="960.5" y2="2981.33" stroke="#000" stroke-width="1.04" stroke-linecap="butt"/>
<text x="960.5" y="3217.4" font-size="16.67" font-family="'DejaVu Sans', 'Liberation Sans', sans-serif" text-anchor="middle" transform="matrix(1 0 0 1.07 0 -225.22)">01/06 06:03:42</text>
<line x1="1563.5" y1="3195" x2="1563.5" y2="3186.67" stroke="#000" stroke-width="1.04" stroke-linecap="butt"/>
<line x1="1563.5" y1="2973" x2="1563.5" y2="2981.33" stroke="#000" stroke-width="1.04" stroke-linecap="butt"/>
<text x="1563.5" y="3217.4" font-size="16.67" font-family="'DejaVu Sans', 'Liberation Sans', sans-serif" text-anchor="middle" transform="matrix(1 0 0 1.07 0 -225.22)">01/06 06:03:47</text>
<line x1="117" y1="3195.5" x2="125.33" y2="3195.5" stroke="#000" stroke-width="1.04" stroke-linecap="butt"/>
<line x1="1683" y1="3195.5" x2="1674.67" y2="3195.5" stroke="#000" stroke-width="1.04" stroke-linecap="butt"/>
<text x="108.4" y="3200.2" font-size="16.67" font-family="'DejaVu Sans', 'Liberation Sans', sans-serif" text-anchor="end" transform="matrix(1 0 0 1.07 0 -224.01)">0.070</text>
<line x1="117" y1="3164.5" x2="125.33" y2="3164.5" stroke="#000" stroke-width="1.04" stroke-linecap="butt"/>
<line x1="1683" y1="3164.5" x2="1674.67" y2="3164.5" stroke="#000" stroke-width="1.04" stroke-linecap="butt"/>
<text x="108.4" y="3169.2" font-size="16.67" font-family="'DejaVu Sans', 'Liberation Sans', sans-serif" text-anchor="end" transform="matrix(1 0 0 1.07 0 -221.84)">0.075</text>
<line x1="117" y1="3132.5" x2="125.33" y2="3132.5" stroke="#000" stroke-width="1.04" stroke-linecap="butt"/>
<line x1="1683" y1="3132.5" x2="1674.67" y2="3132.5" stroke="#000" stroke-width="1.04" stroke-linecap="butt"/>
<text x="108.4" y="3137.2" font-size="16.67" font-family="'DejaVu Sans', 'Liberation Sans', sans-serif" text-anchor="end" transform="matrix(1 0 0 1.07 0 -219.6)">0.080</text>
<line x1="117" y1="3100.5" x2="125.33" y2="3100.5" stroke="#000" stroke-width="1.04" stroke-linecap="butt"/>
<line x1="1683" y1="3100.5" x2="1674.67" y2="3100.5" stroke="#000" stroke-width="1.04" stroke-linecap="butt"/>
<text x="108.4" y="3105.2" font-size="16.67" font-family="'DejaVu Sans', 'Liberation Sans', sans-serif" text-anchor="end" transform="matrix(1 0 0 1.07 0 -217.36)">0.085</text>
<line x1="117" y1="3068.5" x2="125.33" y2="3068.5" stroke="#000" stroke-width="1.04" stroke-linecap="butt"/>
<line x1="1683" y1="3068.5" x2="1674.67" y2="3068.5" stroke="#000" stroke-width="1.04" stroke-linecap="butt"/>
<text x="108.4" y="3073.2" font-size="16.67" font-family="'DejaVu Sans', 'Liberation Sans', sans-serif" text-anchor="end" transform="matrix(1 0 0 1.07 0 -215.12)">0.090</text>
<line x1="117" y1="3037.5" x2="125.33" y2="3037.5" stroke="#000" stroke-width="1.04" stroke-linecap="butt"/>
<line x1="1683" y1="3037.5" x2="1674.67" y2="3037.5" stroke="#000" stroke-width="1.04" stroke-linecap="butt"/>
<text x="108.4" y="3042.2" font-size="16.67" font-family="'DejaVu Sans', 'Liberation Sans', sans-serif" text-anchor="end" transform="matrix(1 0 0 1.07 0 -212.95)">0.095</text>
<line x1="117" y1="3005.5" x2="125.33" y2="3005.5" stroke="#000" stroke-width="1.04" stroke-linecap="butt"/>
<line x1="1683" y1="3005.5" x2="1674.67" y2="3005.5" stroke="#000" stroke-width="1.04" stroke-linecap="butt"/>
<text x="108.4" y="3010.2" font-size="16.67" font-family="'DejaVu Sans', 'Liberation Sans', sans-serif" text-anchor="end" transform="matrix(1 0 0 1.07 0 -210.71)">0.100</text>
<line x1="117" y1="2973.5" x2="125.33" y2="2973.5" stroke="#000" stroke-width="1.04" stroke-linecap="butt"/>
<line x1="1683" y1="2973.5" x2="1674.67" y2="2973.5" stroke="#000" stroke-width="1.04" stroke-linecap="butt"/>
<text x="108.4" y="2978.2" font-size="16.67" font-family="'DejaVu Sans', 'Liberation Sans', sans-serif" text-anchor="end" transform="matrix(1 0 0 1.07 0 -208.47)">0.105</text>
<rect x="117" y="2973" width="1566" height="222" fill="none" stroke="#000" stroke-width="2"/>
<text x="900" y="2960.6" font-size="23.35" font-family="'DejaVu Sans', 'Liberation Sans', sans-serif" text-anchor="middle"><tspan font-family="'DejaVu Sans', 'Liberation Sans', sans-serif">Proton Temperature and </tspan><tspan font-family="'Liberation Serif', 'DejaVu Serif', serif" font-style="italic" font-size="25.22" dx="1.5">T</tspan><tspan font-family="'Liberation Serif', 'DejaVu Serif', serif" font-style="italic" font-size="16.34" dx="0.5" dy="2.8">e</tspan><tspan font-family="'Liberation Serif', 'DejaVu Serif', serif" font-size="25.22" dx="1" dy="-2.8">/</tspan><tspan font-family="'Liberation Serif', 'DejaVu Serif', serif" font-style="italic" font-size="25.22" dx="1">T</tspan><tspan font-family="'Liberation Serif', 'DejaVu Serif', serif" font-style="italic" font-size="16.34" dy="2.8">p</tspan></text>
<text x="42.6" y="3084.5" font-size="16.67" font-family="'DejaVu Sans', 'Liberation Sans', sans-serif" text-anchor="middle" transform="rotate(-90 42.6 3084.5)"><tspan font-family="'DejaVu Sans', 'Liberation Sans', sans-serif">Tp(</tspan><tspan font-family="'Liberation Serif', 'DejaVu Serif', serif">10</tspan><tspan font-family="'Liberation Serif', 'DejaVu Serif', serif" font-size="11.67" dy="-6">6</tspan><tspan font-family="'DejaVu Sans', 'Liberation Sans', sans-serif" dy="6">K)</tspan></text>
<rect x="124.1" y="2980" width="71.1" height="26.9" fill="#fff" stroke="#000" stroke-width="2.08"/>
<line x1="133" y1="2993" x2="156.1" y2="2993" stroke="#0000ff" stroke-width="2.08" stroke-linecap="butt"/>
<text x="171.5" y="2997.8" font-size="14" font-family="'DejaVu Sans', 'Liberation Sans', sans-serif" transform="matrix(0.97 0 0 1.17 5.15 -509.63)">Tp</text>
</svg>
</body></html>
